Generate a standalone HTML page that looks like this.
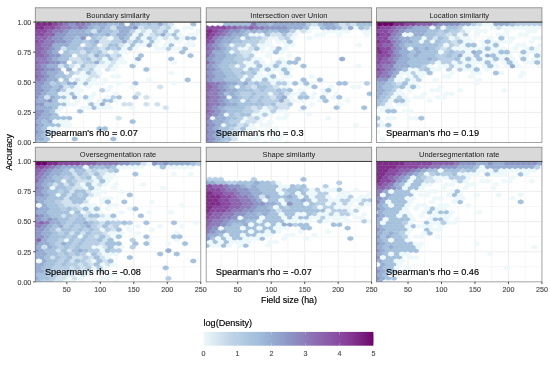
<!DOCTYPE html><html><head><meta charset="utf-8"><style>
html,body{margin:0;padding:0;background:#fff;width:550px;height:369px;overflow:hidden}
svg{display:block;will-change:transform}
text{font-family:"Liberation Sans",sans-serif}
</style></head><body>
<svg width="550" height="369" viewBox="0 0 550 369">
<rect width="550" height="369" fill="#fff"/>
<defs><filter id="bl" x="-5%" y="-5%" width="110%" height="110%"><feGaussianBlur stdDeviation="0.60"/></filter></defs>
<defs><path id="hx" stroke-width="0.4" d="M2.76 -1.16L0 -2.32L-2.76 -1.16V1.16L0 2.32L2.76 1.16Z"/></defs>
<defs><clipPath id="cp00"><rect x="35.30" y="22.05" width="165.45" height="120.45"/></clipPath></defs>
<g clip-path="url(#cp00)"><line x1="50.07" y1="22.05" x2="50.07" y2="142.50" stroke="#ebebeb" stroke-width="0.45"/><line x1="83.55" y1="22.05" x2="83.55" y2="142.50" stroke="#ebebeb" stroke-width="0.45"/><line x1="117.04" y1="22.05" x2="117.04" y2="142.50" stroke="#ebebeb" stroke-width="0.45"/><line x1="150.52" y1="22.05" x2="150.52" y2="142.50" stroke="#ebebeb" stroke-width="0.45"/><line x1="184.01" y1="22.05" x2="184.01" y2="142.50" stroke="#ebebeb" stroke-width="0.45"/><line x1="35.30" y1="127.44" x2="200.75" y2="127.44" stroke="#ebebeb" stroke-width="0.45"/><line x1="35.30" y1="97.33" x2="200.75" y2="97.33" stroke="#ebebeb" stroke-width="0.45"/><line x1="35.30" y1="67.22" x2="200.75" y2="67.22" stroke="#ebebeb" stroke-width="0.45"/><line x1="35.30" y1="37.11" x2="200.75" y2="37.11" stroke="#ebebeb" stroke-width="0.45"/><line x1="66.81" y1="22.05" x2="66.81" y2="142.50" stroke="#ebebeb" stroke-width="0.9"/><line x1="100.29" y1="22.05" x2="100.29" y2="142.50" stroke="#ebebeb" stroke-width="0.9"/><line x1="133.78" y1="22.05" x2="133.78" y2="142.50" stroke="#ebebeb" stroke-width="0.9"/><line x1="167.26" y1="22.05" x2="167.26" y2="142.50" stroke="#ebebeb" stroke-width="0.9"/><line x1="35.30" y1="112.39" x2="200.75" y2="112.39" stroke="#ebebeb" stroke-width="0.9"/><line x1="35.30" y1="82.28" x2="200.75" y2="82.28" stroke="#ebebeb" stroke-width="0.9"/><line x1="35.30" y1="52.16" x2="200.75" y2="52.16" stroke="#ebebeb" stroke-width="0.9"/>
<g filter="url(#bl)"><g fill="#7e2d89" stroke="#7e2d89"><use href="#hx" x="33.3" y="24.3"/><use href="#hx" x="38.8" y="24.3"/><use href="#hx" x="44.4" y="24.3"/><use href="#hx" x="49.9" y="24.3"/><use href="#hx" x="36.1" y="27.8"/><use href="#hx" x="41.6" y="27.8"/><use href="#hx" x="33.3" y="31.2"/></g>
<g fill="#894aa1" stroke="#894aa1"><use href="#hx" x="55.4" y="24.3"/><use href="#hx" x="47.1" y="27.8"/><use href="#hx" x="52.6" y="27.8"/><use href="#hx" x="38.8" y="31.2"/><use href="#hx" x="44.4" y="31.2"/><use href="#hx" x="36.1" y="34.7"/><use href="#hx" x="41.6" y="34.7"/><use href="#hx" x="33.3" y="38.2"/><use href="#hx" x="36.1" y="41.7"/><use href="#hx" x="33.3" y="45.1"/></g>
<g fill="#8c63ad" stroke="#8c63ad"><use href="#hx" x="60.9" y="24.3"/><use href="#hx" x="58.1" y="27.8"/><use href="#hx" x="49.9" y="31.2"/><use href="#hx" x="47.1" y="34.7"/><use href="#hx" x="52.6" y="34.7"/><use href="#hx" x="38.8" y="38.2"/><use href="#hx" x="44.4" y="38.2"/><use href="#hx" x="41.6" y="41.7"/><use href="#hx" x="38.8" y="45.1"/><use href="#hx" x="36.1" y="48.6"/><use href="#hx" x="41.6" y="48.6"/><use href="#hx" x="33.3" y="52.1"/><use href="#hx" x="38.8" y="52.1"/><use href="#hx" x="36.1" y="55.6"/><use href="#hx" x="41.6" y="55.6"/><use href="#hx" x="33.3" y="59.0"/><use href="#hx" x="36.1" y="62.5"/><use href="#hx" x="33.3" y="66.0"/><use href="#hx" x="36.1" y="69.5"/><use href="#hx" x="33.3" y="73.0"/><use href="#hx" x="36.1" y="76.4"/></g>
<g fill="#8d7cb9" stroke="#8d7cb9"><use href="#hx" x="66.4" y="24.3"/><use href="#hx" x="77.4" y="24.3"/><use href="#hx" x="83.0" y="24.3"/><use href="#hx" x="63.7" y="27.8"/><use href="#hx" x="69.2" y="27.8"/><use href="#hx" x="80.2" y="27.8"/><use href="#hx" x="55.4" y="31.2"/><use href="#hx" x="60.9" y="31.2"/><use href="#hx" x="49.9" y="38.2"/><use href="#hx" x="47.1" y="41.7"/><use href="#hx" x="52.6" y="41.7"/><use href="#hx" x="44.4" y="45.1"/><use href="#hx" x="49.9" y="45.1"/><use href="#hx" x="47.1" y="48.6"/><use href="#hx" x="44.4" y="52.1"/><use href="#hx" x="47.1" y="55.6"/><use href="#hx" x="38.8" y="59.0"/><use href="#hx" x="44.4" y="59.0"/><use href="#hx" x="41.6" y="62.5"/><use href="#hx" x="47.1" y="62.5"/><use href="#hx" x="38.8" y="66.0"/><use href="#hx" x="41.6" y="69.5"/><use href="#hx" x="38.8" y="73.0"/><use href="#hx" x="41.6" y="76.4"/><use href="#hx" x="33.3" y="79.9"/><use href="#hx" x="38.8" y="79.9"/></g>
<g fill="#8c96c6" stroke="#8c96c6"><use href="#hx" x="71.9" y="24.3"/><use href="#hx" x="88.5" y="24.3"/><use href="#hx" x="74.7" y="27.8"/><use href="#hx" x="85.7" y="27.8"/><use href="#hx" x="135.4" y="27.8"/><use href="#hx" x="66.4" y="31.2"/><use href="#hx" x="58.1" y="34.7"/><use href="#hx" x="63.7" y="34.7"/><use href="#hx" x="55.4" y="38.2"/><use href="#hx" x="60.9" y="38.2"/><use href="#hx" x="83.0" y="38.2"/><use href="#hx" x="58.1" y="41.7"/><use href="#hx" x="63.7" y="41.7"/><use href="#hx" x="52.6" y="48.6"/><use href="#hx" x="49.9" y="52.1"/><use href="#hx" x="52.6" y="55.6"/><use href="#hx" x="58.1" y="55.6"/><use href="#hx" x="49.9" y="59.0"/><use href="#hx" x="52.6" y="62.5"/><use href="#hx" x="58.1" y="62.5"/><use href="#hx" x="44.4" y="66.0"/><use href="#hx" x="47.1" y="69.5"/><use href="#hx" x="52.6" y="69.5"/><use href="#hx" x="44.4" y="73.0"/><use href="#hx" x="47.1" y="76.4"/><use href="#hx" x="44.4" y="79.9"/><use href="#hx" x="36.1" y="83.4"/><use href="#hx" x="41.6" y="83.4"/><use href="#hx" x="33.3" y="86.9"/><use href="#hx" x="38.8" y="86.9"/><use href="#hx" x="36.1" y="90.3"/><use href="#hx" x="41.6" y="90.3"/><use href="#hx" x="33.3" y="93.8"/><use href="#hx" x="38.8" y="93.8"/><use href="#hx" x="36.1" y="97.3"/><use href="#hx" x="33.3" y="100.8"/><use href="#hx" x="49.9" y="100.8"/><use href="#hx" x="36.1" y="104.3"/><use href="#hx" x="41.6" y="104.3"/><use href="#hx" x="33.3" y="107.7"/><use href="#hx" x="36.1" y="111.2"/><use href="#hx" x="41.6" y="111.2"/><use href="#hx" x="33.3" y="114.7"/><use href="#hx" x="38.8" y="114.7"/><use href="#hx" x="36.1" y="118.2"/><use href="#hx" x="33.3" y="121.6"/><use href="#hx" x="36.1" y="125.1"/><use href="#hx" x="33.3" y="128.6"/><use href="#hx" x="36.1" y="132.1"/><use href="#hx" x="33.3" y="135.5"/></g>
<g fill="#97add2" stroke="#97add2"><use href="#hx" x="94.0" y="24.3"/><use href="#hx" x="99.5" y="24.3"/><use href="#hx" x="105.0" y="24.3"/><use href="#hx" x="121.6" y="24.3"/><use href="#hx" x="132.6" y="24.3"/><use href="#hx" x="160.2" y="24.3"/><use href="#hx" x="91.2" y="27.8"/><use href="#hx" x="102.3" y="27.8"/><use href="#hx" x="118.8" y="27.8"/><use href="#hx" x="124.3" y="27.8"/><use href="#hx" x="129.8" y="27.8"/><use href="#hx" x="71.9" y="31.2"/><use href="#hx" x="77.4" y="31.2"/><use href="#hx" x="83.0" y="31.2"/><use href="#hx" x="99.5" y="31.2"/><use href="#hx" x="121.6" y="31.2"/><use href="#hx" x="127.1" y="31.2"/><use href="#hx" x="69.2" y="34.7"/><use href="#hx" x="74.7" y="34.7"/><use href="#hx" x="80.2" y="34.7"/><use href="#hx" x="85.7" y="34.7"/><use href="#hx" x="91.2" y="34.7"/><use href="#hx" x="107.8" y="34.7"/><use href="#hx" x="118.8" y="34.7"/><use href="#hx" x="124.3" y="34.7"/><use href="#hx" x="162.9" y="34.7"/><use href="#hx" x="66.4" y="38.2"/><use href="#hx" x="71.9" y="38.2"/><use href="#hx" x="121.6" y="38.2"/><use href="#hx" x="69.2" y="41.7"/><use href="#hx" x="96.7" y="41.7"/><use href="#hx" x="124.3" y="41.7"/><use href="#hx" x="55.4" y="45.1"/><use href="#hx" x="60.9" y="45.1"/><use href="#hx" x="66.4" y="45.1"/><use href="#hx" x="149.1" y="45.1"/><use href="#hx" x="58.1" y="48.6"/><use href="#hx" x="55.4" y="52.1"/><use href="#hx" x="96.7" y="55.6"/><use href="#hx" x="55.4" y="59.0"/><use href="#hx" x="138.1" y="59.0"/><use href="#hx" x="63.7" y="62.5"/><use href="#hx" x="96.7" y="62.5"/><use href="#hx" x="49.9" y="66.0"/><use href="#hx" x="55.4" y="66.0"/><use href="#hx" x="58.1" y="69.5"/><use href="#hx" x="69.2" y="69.5"/><use href="#hx" x="49.9" y="73.0"/><use href="#hx" x="55.4" y="73.0"/><use href="#hx" x="52.6" y="76.4"/><use href="#hx" x="49.9" y="79.9"/><use href="#hx" x="55.4" y="79.9"/><use href="#hx" x="47.1" y="83.4"/><use href="#hx" x="69.2" y="83.4"/><use href="#hx" x="74.7" y="83.4"/><use href="#hx" x="44.4" y="86.9"/><use href="#hx" x="49.9" y="86.9"/><use href="#hx" x="60.9" y="86.9"/><use href="#hx" x="47.1" y="90.3"/><use href="#hx" x="58.1" y="90.3"/><use href="#hx" x="44.4" y="93.8"/><use href="#hx" x="41.6" y="97.3"/><use href="#hx" x="52.6" y="97.3"/><use href="#hx" x="74.7" y="97.3"/><use href="#hx" x="38.8" y="100.8"/><use href="#hx" x="44.4" y="100.8"/><use href="#hx" x="102.3" y="104.3"/><use href="#hx" x="38.8" y="107.7"/><use href="#hx" x="44.4" y="107.7"/><use href="#hx" x="49.9" y="107.7"/><use href="#hx" x="47.1" y="111.2"/><use href="#hx" x="44.4" y="114.7"/><use href="#hx" x="49.9" y="114.7"/><use href="#hx" x="41.6" y="118.2"/><use href="#hx" x="47.1" y="118.2"/><use href="#hx" x="38.8" y="121.6"/><use href="#hx" x="49.9" y="121.6"/><use href="#hx" x="41.6" y="125.1"/><use href="#hx" x="38.8" y="128.6"/><use href="#hx" x="41.6" y="132.1"/><use href="#hx" x="38.8" y="135.5"/><use href="#hx" x="36.1" y="139.0"/><use href="#hx" x="41.6" y="139.0"/><use href="#hx" x="33.3" y="142.5"/></g>
<g fill="#a5c1dc" stroke="#a5c1dc"><use href="#hx" x="110.5" y="24.3"/><use href="#hx" x="116.0" y="24.3"/><use href="#hx" x="138.1" y="24.3"/><use href="#hx" x="149.1" y="24.3"/><use href="#hx" x="193.3" y="24.3"/><use href="#hx" x="96.7" y="27.8"/><use href="#hx" x="107.8" y="27.8"/><use href="#hx" x="88.5" y="31.2"/><use href="#hx" x="105.0" y="31.2"/><use href="#hx" x="110.5" y="31.2"/><use href="#hx" x="165.7" y="31.2"/><use href="#hx" x="96.7" y="34.7"/><use href="#hx" x="102.3" y="34.7"/><use href="#hx" x="129.8" y="34.7"/><use href="#hx" x="140.9" y="34.7"/><use href="#hx" x="174.0" y="34.7"/><use href="#hx" x="77.4" y="38.2"/><use href="#hx" x="94.0" y="38.2"/><use href="#hx" x="127.1" y="38.2"/><use href="#hx" x="138.1" y="38.2"/><use href="#hx" x="149.1" y="38.2"/><use href="#hx" x="187.7" y="38.2"/><use href="#hx" x="193.3" y="38.2"/><use href="#hx" x="74.7" y="41.7"/><use href="#hx" x="80.2" y="41.7"/><use href="#hx" x="91.2" y="41.7"/><use href="#hx" x="135.4" y="41.7"/><use href="#hx" x="151.9" y="41.7"/><use href="#hx" x="71.9" y="45.1"/><use href="#hx" x="77.4" y="45.1"/><use href="#hx" x="94.0" y="45.1"/><use href="#hx" x="110.5" y="45.1"/><use href="#hx" x="116.0" y="45.1"/><use href="#hx" x="132.6" y="45.1"/><use href="#hx" x="171.2" y="45.1"/><use href="#hx" x="69.2" y="48.6"/><use href="#hx" x="74.7" y="48.6"/><use href="#hx" x="85.7" y="48.6"/><use href="#hx" x="91.2" y="48.6"/><use href="#hx" x="107.8" y="48.6"/><use href="#hx" x="118.8" y="48.6"/><use href="#hx" x="129.8" y="48.6"/><use href="#hx" x="185.0" y="48.6"/><use href="#hx" x="66.4" y="52.1"/><use href="#hx" x="88.5" y="52.1"/><use href="#hx" x="99.5" y="52.1"/><use href="#hx" x="182.2" y="52.1"/><use href="#hx" x="63.7" y="55.6"/><use href="#hx" x="69.2" y="55.6"/><use href="#hx" x="107.8" y="55.6"/><use href="#hx" x="140.9" y="55.6"/><use href="#hx" x="190.5" y="55.6"/><use href="#hx" x="60.9" y="59.0"/><use href="#hx" x="66.4" y="59.0"/><use href="#hx" x="88.5" y="59.0"/><use href="#hx" x="110.5" y="59.0"/><use href="#hx" x="171.2" y="59.0"/><use href="#hx" x="66.4" y="66.0"/><use href="#hx" x="83.0" y="66.0"/><use href="#hx" x="132.6" y="66.0"/><use href="#hx" x="146.4" y="69.5"/><use href="#hx" x="60.9" y="73.0"/><use href="#hx" x="88.5" y="73.0"/><use href="#hx" x="58.1" y="76.4"/><use href="#hx" x="63.7" y="76.4"/><use href="#hx" x="66.4" y="79.9"/><use href="#hx" x="187.7" y="79.9"/><use href="#hx" x="58.1" y="83.4"/><use href="#hx" x="85.7" y="83.4"/><use href="#hx" x="135.4" y="83.4"/><use href="#hx" x="55.4" y="86.9"/><use href="#hx" x="52.6" y="90.3"/><use href="#hx" x="49.9" y="93.8"/><use href="#hx" x="55.4" y="93.8"/><use href="#hx" x="71.9" y="93.8"/><use href="#hx" x="58.1" y="97.3"/><use href="#hx" x="63.7" y="97.3"/><use href="#hx" x="85.7" y="97.3"/><use href="#hx" x="118.8" y="97.3"/><use href="#hx" x="135.4" y="97.3"/><use href="#hx" x="55.4" y="100.8"/><use href="#hx" x="105.0" y="100.8"/><use href="#hx" x="110.5" y="100.8"/><use href="#hx" x="47.1" y="104.3"/><use href="#hx" x="52.6" y="104.3"/><use href="#hx" x="58.1" y="104.3"/><use href="#hx" x="63.7" y="104.3"/><use href="#hx" x="91.2" y="104.3"/><use href="#hx" x="55.4" y="107.7"/><use href="#hx" x="94.0" y="107.7"/><use href="#hx" x="52.6" y="111.2"/><use href="#hx" x="80.2" y="111.2"/><use href="#hx" x="55.4" y="114.7"/><use href="#hx" x="52.6" y="118.2"/><use href="#hx" x="58.1" y="118.2"/><use href="#hx" x="63.7" y="118.2"/><use href="#hx" x="69.2" y="118.2"/><use href="#hx" x="44.4" y="121.6"/><use href="#hx" x="132.6" y="121.6"/><use href="#hx" x="47.1" y="125.1"/><use href="#hx" x="52.6" y="125.1"/><use href="#hx" x="58.1" y="125.1"/><use href="#hx" x="44.4" y="128.6"/><use href="#hx" x="99.5" y="128.6"/><use href="#hx" x="105.0" y="128.6"/><use href="#hx" x="47.1" y="132.1"/><use href="#hx" x="44.4" y="135.5"/><use href="#hx" x="47.1" y="139.0"/><use href="#hx" x="74.7" y="139.0"/><use href="#hx" x="113.3" y="139.0"/><use href="#hx" x="38.8" y="142.5"/><use href="#hx" x="44.4" y="142.5"/></g>
<g fill="#b8cee4" stroke="#b8cee4"><use href="#hx" x="143.6" y="24.3"/><use href="#hx" x="154.7" y="24.3"/><use href="#hx" x="165.7" y="24.3"/><use href="#hx" x="146.4" y="27.8"/><use href="#hx" x="151.9" y="27.8"/><use href="#hx" x="157.4" y="27.8"/><use href="#hx" x="168.4" y="27.8"/><use href="#hx" x="116.0" y="31.2"/><use href="#hx" x="132.6" y="31.2"/><use href="#hx" x="154.7" y="31.2"/><use href="#hx" x="176.7" y="31.2"/><use href="#hx" x="113.3" y="34.7"/><use href="#hx" x="157.4" y="34.7"/><use href="#hx" x="99.5" y="38.2"/><use href="#hx" x="116.0" y="38.2"/><use href="#hx" x="176.7" y="38.2"/><use href="#hx" x="85.7" y="41.7"/><use href="#hx" x="113.3" y="41.7"/><use href="#hx" x="118.8" y="41.7"/><use href="#hx" x="140.9" y="41.7"/><use href="#hx" x="88.5" y="45.1"/><use href="#hx" x="80.2" y="48.6"/><use href="#hx" x="96.7" y="48.6"/><use href="#hx" x="113.3" y="48.6"/><use href="#hx" x="168.4" y="48.6"/><use href="#hx" x="71.9" y="52.1"/><use href="#hx" x="77.4" y="52.1"/><use href="#hx" x="94.0" y="52.1"/><use href="#hx" x="80.2" y="55.6"/><use href="#hx" x="85.7" y="55.6"/><use href="#hx" x="102.3" y="55.6"/><use href="#hx" x="118.8" y="55.6"/><use href="#hx" x="83.0" y="59.0"/><use href="#hx" x="99.5" y="59.0"/><use href="#hx" x="74.7" y="62.5"/><use href="#hx" x="85.7" y="62.5"/><use href="#hx" x="91.2" y="62.5"/><use href="#hx" x="80.2" y="69.5"/><use href="#hx" x="91.2" y="69.5"/><use href="#hx" x="71.9" y="73.0"/><use href="#hx" x="69.2" y="76.4"/><use href="#hx" x="52.6" y="83.4"/><use href="#hx" x="63.7" y="83.4"/><use href="#hx" x="71.9" y="86.9"/><use href="#hx" x="63.7" y="90.3"/><use href="#hx" x="102.3" y="90.3"/><use href="#hx" x="113.3" y="97.3"/><use href="#hx" x="52.6" y="132.1"/></g>
<g fill="#d1e2ee" stroke="#d1e2ee"><use href="#hx" x="171.2" y="24.3"/><use href="#hx" x="113.3" y="27.8"/><use href="#hx" x="140.9" y="27.8"/><use href="#hx" x="162.9" y="27.8"/><use href="#hx" x="94.0" y="31.2"/><use href="#hx" x="143.6" y="31.2"/><use href="#hx" x="160.2" y="31.2"/><use href="#hx" x="151.9" y="34.7"/><use href="#hx" x="168.4" y="34.7"/><use href="#hx" x="105.0" y="38.2"/><use href="#hx" x="154.7" y="38.2"/><use href="#hx" x="165.7" y="38.2"/><use href="#hx" x="102.3" y="41.7"/><use href="#hx" x="107.8" y="41.7"/><use href="#hx" x="129.8" y="41.7"/><use href="#hx" x="105.0" y="45.1"/><use href="#hx" x="121.6" y="45.1"/><use href="#hx" x="63.7" y="48.6"/><use href="#hx" x="102.3" y="48.6"/><use href="#hx" x="83.0" y="52.1"/><use href="#hx" x="105.0" y="52.1"/><use href="#hx" x="116.0" y="52.1"/><use href="#hx" x="91.2" y="55.6"/><use href="#hx" x="113.3" y="55.6"/><use href="#hx" x="71.9" y="59.0"/><use href="#hx" x="77.4" y="59.0"/><use href="#hx" x="94.0" y="59.0"/><use href="#hx" x="116.0" y="59.0"/><use href="#hx" x="80.2" y="62.5"/><use href="#hx" x="102.3" y="62.5"/><use href="#hx" x="113.3" y="62.5"/><use href="#hx" x="60.9" y="66.0"/><use href="#hx" x="71.9" y="66.0"/><use href="#hx" x="88.5" y="66.0"/><use href="#hx" x="94.0" y="66.0"/><use href="#hx" x="110.5" y="66.0"/><use href="#hx" x="85.7" y="69.5"/><use href="#hx" x="107.8" y="69.5"/><use href="#hx" x="77.4" y="73.0"/><use href="#hx" x="94.0" y="73.0"/><use href="#hx" x="91.2" y="76.4"/><use href="#hx" x="96.7" y="76.4"/><use href="#hx" x="77.4" y="79.9"/><use href="#hx" x="88.5" y="79.9"/><use href="#hx" x="66.4" y="86.9"/><use href="#hx" x="160.2" y="86.9"/><use href="#hx" x="138.1" y="93.8"/><use href="#hx" x="47.1" y="97.3"/><use href="#hx" x="146.4" y="97.3"/><use href="#hx" x="124.3" y="104.3"/><use href="#hx" x="129.8" y="104.3"/><use href="#hx" x="146.4" y="104.3"/><use href="#hx" x="157.4" y="104.3"/><use href="#hx" x="165.7" y="107.7"/><use href="#hx" x="118.8" y="118.2"/></g>
<g fill="#edf8fb" stroke="#edf8fb"><use href="#hx" x="174.0" y="27.8"/><use href="#hx" x="185.0" y="27.8"/><use href="#hx" x="190.5" y="27.8"/><use href="#hx" x="138.1" y="31.2"/><use href="#hx" x="149.1" y="31.2"/><use href="#hx" x="171.2" y="31.2"/><use href="#hx" x="198.8" y="31.2"/><use href="#hx" x="135.4" y="34.7"/><use href="#hx" x="146.4" y="34.7"/><use href="#hx" x="179.5" y="34.7"/><use href="#hx" x="190.5" y="34.7"/><use href="#hx" x="196.0" y="34.7"/><use href="#hx" x="110.5" y="38.2"/><use href="#hx" x="132.6" y="38.2"/><use href="#hx" x="143.6" y="38.2"/><use href="#hx" x="160.2" y="38.2"/><use href="#hx" x="171.2" y="38.2"/><use href="#hx" x="182.2" y="38.2"/><use href="#hx" x="146.4" y="41.7"/><use href="#hx" x="157.4" y="41.7"/><use href="#hx" x="168.4" y="41.7"/><use href="#hx" x="174.0" y="41.7"/><use href="#hx" x="179.5" y="41.7"/><use href="#hx" x="190.5" y="41.7"/><use href="#hx" x="127.1" y="45.1"/><use href="#hx" x="138.1" y="45.1"/><use href="#hx" x="143.6" y="45.1"/><use href="#hx" x="154.7" y="45.1"/><use href="#hx" x="165.7" y="45.1"/><use href="#hx" x="187.7" y="45.1"/><use href="#hx" x="193.3" y="45.1"/><use href="#hx" x="124.3" y="48.6"/><use href="#hx" x="135.4" y="48.6"/><use href="#hx" x="157.4" y="48.6"/><use href="#hx" x="162.9" y="48.6"/><use href="#hx" x="174.0" y="48.6"/><use href="#hx" x="179.5" y="48.6"/><use href="#hx" x="110.5" y="52.1"/><use href="#hx" x="121.6" y="52.1"/><use href="#hx" x="127.1" y="52.1"/><use href="#hx" x="105.0" y="59.0"/><use href="#hx" x="121.6" y="59.0"/><use href="#hx" x="107.8" y="62.5"/><use href="#hx" x="118.8" y="62.5"/><use href="#hx" x="124.3" y="62.5"/><use href="#hx" x="135.4" y="62.5"/><use href="#hx" x="174.0" y="62.5"/><use href="#hx" x="77.4" y="66.0"/><use href="#hx" x="99.5" y="66.0"/><use href="#hx" x="105.0" y="66.0"/><use href="#hx" x="116.0" y="66.0"/><use href="#hx" x="96.7" y="69.5"/><use href="#hx" x="113.3" y="69.5"/><use href="#hx" x="83.0" y="73.0"/><use href="#hx" x="99.5" y="73.0"/><use href="#hx" x="171.2" y="73.0"/><use href="#hx" x="80.2" y="76.4"/><use href="#hx" x="85.7" y="76.4"/><use href="#hx" x="113.3" y="76.4"/><use href="#hx" x="118.8" y="76.4"/><use href="#hx" x="71.9" y="79.9"/><use href="#hx" x="83.0" y="79.9"/><use href="#hx" x="94.0" y="79.9"/><use href="#hx" x="105.0" y="79.9"/><use href="#hx" x="149.1" y="79.9"/><use href="#hx" x="80.2" y="83.4"/><use href="#hx" x="91.2" y="83.4"/><use href="#hx" x="96.7" y="83.4"/><use href="#hx" x="102.3" y="83.4"/><use href="#hx" x="118.8" y="83.4"/><use href="#hx" x="174.0" y="83.4"/><use href="#hx" x="77.4" y="86.9"/><use href="#hx" x="88.5" y="86.9"/><use href="#hx" x="110.5" y="86.9"/><use href="#hx" x="132.6" y="86.9"/><use href="#hx" x="69.2" y="90.3"/><use href="#hx" x="74.7" y="90.3"/><use href="#hx" x="80.2" y="90.3"/><use href="#hx" x="107.8" y="90.3"/><use href="#hx" x="60.9" y="93.8"/><use href="#hx" x="66.4" y="93.8"/><use href="#hx" x="77.4" y="93.8"/><use href="#hx" x="94.0" y="93.8"/><use href="#hx" x="116.0" y="93.8"/><use href="#hx" x="69.2" y="97.3"/><use href="#hx" x="80.2" y="97.3"/><use href="#hx" x="91.2" y="97.3"/><use href="#hx" x="107.8" y="97.3"/><use href="#hx" x="60.9" y="100.8"/><use href="#hx" x="66.4" y="100.8"/><use href="#hx" x="77.4" y="100.8"/><use href="#hx" x="88.5" y="100.8"/><use href="#hx" x="99.5" y="100.8"/><use href="#hx" x="116.0" y="100.8"/><use href="#hx" x="69.2" y="104.3"/><use href="#hx" x="74.7" y="104.3"/><use href="#hx" x="96.7" y="104.3"/><use href="#hx" x="107.8" y="104.3"/><use href="#hx" x="60.9" y="107.7"/><use href="#hx" x="83.0" y="107.7"/><use href="#hx" x="88.5" y="107.7"/><use href="#hx" x="99.5" y="107.7"/><use href="#hx" x="105.0" y="107.7"/><use href="#hx" x="110.5" y="107.7"/><use href="#hx" x="132.6" y="107.7"/><use href="#hx" x="58.1" y="111.2"/><use href="#hx" x="55.4" y="121.6"/><use href="#hx" x="60.9" y="121.6"/><use href="#hx" x="66.4" y="121.6"/><use href="#hx" x="63.7" y="125.1"/><use href="#hx" x="69.2" y="125.1"/><use href="#hx" x="49.9" y="128.6"/><use href="#hx" x="55.4" y="128.6"/><use href="#hx" x="49.9" y="135.5"/></g></g>
</g>
<rect x="35.30" y="22.05" width="165.45" height="120.45" fill="none" stroke="#333" stroke-opacity="0.5" stroke-width="0.90"/>
<rect x="35.30" y="7.75" width="165.45" height="14.30" fill="#d9d9d9" stroke="#333" stroke-opacity="0.5" stroke-width="0.90"/>
<line x1="34.85" y1="22.05" x2="201.20" y2="22.05" stroke="#333" stroke-width="0.8"/>
<text x="118.02" y="17.60" font-size="7.5" stroke-width="0" fill="#222" text-anchor="middle">Boundary similarity</text>
<text x="44.90" y="136.00" font-size="9.2" fill="#000" stroke="#000" stroke-width="0.15">Spearman&#39;s rho = 0.07</text>
<line x1="33.10" y1="142.50" x2="35.30" y2="142.50" stroke="#333" stroke-width="0.85"/>
<text x="31.30" y="145.30" font-size="7.1" fill="#4d4d4d" stroke="#4d4d4d" stroke-width="0.15" text-anchor="end">0.00</text>
<line x1="33.10" y1="112.39" x2="35.30" y2="112.39" stroke="#333" stroke-width="0.85"/>
<text x="31.30" y="115.19" font-size="7.1" fill="#4d4d4d" stroke="#4d4d4d" stroke-width="0.15" text-anchor="end">0.25</text>
<line x1="33.10" y1="82.28" x2="35.30" y2="82.28" stroke="#333" stroke-width="0.85"/>
<text x="31.30" y="85.08" font-size="7.1" fill="#4d4d4d" stroke="#4d4d4d" stroke-width="0.15" text-anchor="end">0.50</text>
<line x1="33.10" y1="52.16" x2="35.30" y2="52.16" stroke="#333" stroke-width="0.85"/>
<text x="31.30" y="54.96" font-size="7.1" fill="#4d4d4d" stroke="#4d4d4d" stroke-width="0.15" text-anchor="end">0.75</text>
<line x1="33.10" y1="22.05" x2="35.30" y2="22.05" stroke="#333" stroke-width="0.85"/>
<text x="31.30" y="24.85" font-size="7.1" fill="#4d4d4d" stroke="#4d4d4d" stroke-width="0.15" text-anchor="end">1.00</text>
<defs><clipPath id="cp01"><rect x="206.20" y="22.05" width="165.45" height="120.45"/></clipPath></defs>
<g clip-path="url(#cp01)"><line x1="220.97" y1="22.05" x2="220.97" y2="142.50" stroke="#ebebeb" stroke-width="0.45"/><line x1="254.45" y1="22.05" x2="254.45" y2="142.50" stroke="#ebebeb" stroke-width="0.45"/><line x1="287.94" y1="22.05" x2="287.94" y2="142.50" stroke="#ebebeb" stroke-width="0.45"/><line x1="321.42" y1="22.05" x2="321.42" y2="142.50" stroke="#ebebeb" stroke-width="0.45"/><line x1="354.91" y1="22.05" x2="354.91" y2="142.50" stroke="#ebebeb" stroke-width="0.45"/><line x1="206.20" y1="127.44" x2="371.65" y2="127.44" stroke="#ebebeb" stroke-width="0.45"/><line x1="206.20" y1="97.33" x2="371.65" y2="97.33" stroke="#ebebeb" stroke-width="0.45"/><line x1="206.20" y1="67.22" x2="371.65" y2="67.22" stroke="#ebebeb" stroke-width="0.45"/><line x1="206.20" y1="37.11" x2="371.65" y2="37.11" stroke="#ebebeb" stroke-width="0.45"/><line x1="237.71" y1="22.05" x2="237.71" y2="142.50" stroke="#ebebeb" stroke-width="0.9"/><line x1="271.19" y1="22.05" x2="271.19" y2="142.50" stroke="#ebebeb" stroke-width="0.9"/><line x1="304.68" y1="22.05" x2="304.68" y2="142.50" stroke="#ebebeb" stroke-width="0.9"/><line x1="338.16" y1="22.05" x2="338.16" y2="142.50" stroke="#ebebeb" stroke-width="0.9"/><line x1="206.20" y1="112.39" x2="371.65" y2="112.39" stroke="#ebebeb" stroke-width="0.9"/><line x1="206.20" y1="82.28" x2="371.65" y2="82.28" stroke="#ebebeb" stroke-width="0.9"/><line x1="206.20" y1="52.16" x2="371.65" y2="52.16" stroke="#ebebeb" stroke-width="0.9"/>
<g filter="url(#bl)"><g fill="#edf8fb" stroke="#edf8fb"><use href="#hx" x="220.8" y="24.3"/><use href="#hx" x="311.8" y="27.8"/><use href="#hx" x="317.3" y="27.8"/><use href="#hx" x="355.9" y="27.8"/><use href="#hx" x="372.4" y="27.8"/><use href="#hx" x="298.0" y="31.2"/><use href="#hx" x="309.0" y="31.2"/><use href="#hx" x="325.6" y="31.2"/><use href="#hx" x="331.1" y="31.2"/><use href="#hx" x="336.6" y="31.2"/><use href="#hx" x="342.1" y="31.2"/><use href="#hx" x="347.6" y="31.2"/><use href="#hx" x="364.2" y="31.2"/><use href="#hx" x="369.7" y="31.2"/><use href="#hx" x="251.1" y="34.7"/><use href="#hx" x="256.6" y="34.7"/><use href="#hx" x="262.1" y="34.7"/><use href="#hx" x="295.2" y="34.7"/><use href="#hx" x="317.3" y="34.7"/><use href="#hx" x="322.8" y="34.7"/><use href="#hx" x="339.3" y="34.7"/><use href="#hx" x="366.9" y="34.7"/><use href="#hx" x="242.8" y="38.2"/><use href="#hx" x="270.4" y="38.2"/><use href="#hx" x="275.9" y="38.2"/><use href="#hx" x="292.5" y="38.2"/><use href="#hx" x="309.0" y="38.2"/><use href="#hx" x="267.6" y="41.7"/><use href="#hx" x="278.7" y="41.7"/><use href="#hx" x="284.2" y="41.7"/><use href="#hx" x="231.8" y="45.1"/><use href="#hx" x="248.3" y="45.1"/><use href="#hx" x="259.4" y="45.1"/><use href="#hx" x="264.9" y="45.1"/><use href="#hx" x="270.4" y="45.1"/><use href="#hx" x="286.9" y="45.1"/><use href="#hx" x="292.5" y="45.1"/><use href="#hx" x="358.6" y="45.1"/><use href="#hx" x="240.1" y="48.6"/><use href="#hx" x="245.6" y="48.6"/><use href="#hx" x="262.1" y="48.6"/><use href="#hx" x="273.2" y="48.6"/><use href="#hx" x="284.2" y="48.6"/><use href="#hx" x="231.8" y="52.1"/><use href="#hx" x="253.9" y="52.1"/><use href="#hx" x="270.4" y="52.1"/><use href="#hx" x="281.4" y="52.1"/><use href="#hx" x="267.6" y="55.6"/><use href="#hx" x="289.7" y="55.6"/><use href="#hx" x="253.9" y="59.0"/><use href="#hx" x="259.4" y="59.0"/><use href="#hx" x="281.4" y="59.0"/><use href="#hx" x="245.6" y="62.5"/><use href="#hx" x="251.1" y="62.5"/><use href="#hx" x="262.1" y="62.5"/><use href="#hx" x="273.2" y="62.5"/><use href="#hx" x="284.2" y="62.5"/><use href="#hx" x="237.3" y="66.0"/><use href="#hx" x="248.3" y="66.0"/><use href="#hx" x="253.9" y="66.0"/><use href="#hx" x="264.9" y="66.0"/><use href="#hx" x="270.4" y="66.0"/><use href="#hx" x="281.4" y="66.0"/><use href="#hx" x="286.9" y="66.0"/><use href="#hx" x="358.6" y="66.0"/><use href="#hx" x="245.6" y="69.5"/><use href="#hx" x="262.1" y="69.5"/><use href="#hx" x="273.2" y="69.5"/><use href="#hx" x="278.7" y="69.5"/><use href="#hx" x="289.7" y="69.5"/><use href="#hx" x="259.4" y="73.0"/><use href="#hx" x="270.4" y="73.0"/><use href="#hx" x="281.4" y="73.0"/><use href="#hx" x="245.6" y="76.4"/><use href="#hx" x="256.6" y="76.4"/><use href="#hx" x="262.1" y="76.4"/><use href="#hx" x="267.6" y="76.4"/><use href="#hx" x="284.2" y="76.4"/><use href="#hx" x="289.7" y="76.4"/><use href="#hx" x="311.8" y="76.4"/><use href="#hx" x="242.8" y="79.9"/><use href="#hx" x="253.9" y="79.9"/><use href="#hx" x="259.4" y="79.9"/><use href="#hx" x="270.4" y="79.9"/><use href="#hx" x="275.9" y="79.9"/><use href="#hx" x="281.4" y="79.9"/><use href="#hx" x="273.2" y="83.4"/><use href="#hx" x="289.7" y="83.4"/><use href="#hx" x="300.7" y="83.4"/><use href="#hx" x="311.8" y="83.4"/><use href="#hx" x="237.3" y="86.9"/><use href="#hx" x="281.4" y="86.9"/><use href="#hx" x="286.9" y="86.9"/><use href="#hx" x="309.0" y="86.9"/><use href="#hx" x="331.1" y="86.9"/><use href="#hx" x="353.1" y="86.9"/><use href="#hx" x="358.6" y="86.9"/><use href="#hx" x="300.7" y="90.3"/><use href="#hx" x="322.8" y="90.3"/><use href="#hx" x="270.4" y="93.8"/><use href="#hx" x="292.5" y="93.8"/><use href="#hx" x="298.0" y="93.8"/><use href="#hx" x="314.5" y="93.8"/><use href="#hx" x="325.6" y="93.8"/><use href="#hx" x="336.6" y="93.8"/><use href="#hx" x="229.0" y="97.3"/><use href="#hx" x="289.7" y="97.3"/><use href="#hx" x="311.8" y="97.3"/><use href="#hx" x="333.8" y="97.3"/><use href="#hx" x="242.8" y="100.8"/><use href="#hx" x="292.5" y="100.8"/><use href="#hx" x="298.0" y="100.8"/><use href="#hx" x="303.5" y="100.8"/><use href="#hx" x="320.0" y="100.8"/><use href="#hx" x="347.6" y="100.8"/><use href="#hx" x="311.8" y="104.3"/><use href="#hx" x="339.3" y="104.3"/><use href="#hx" x="264.9" y="107.7"/><use href="#hx" x="262.1" y="111.2"/><use href="#hx" x="267.6" y="111.2"/><use href="#hx" x="278.7" y="111.2"/><use href="#hx" x="284.2" y="111.2"/><use href="#hx" x="300.7" y="111.2"/><use href="#hx" x="226.3" y="114.7"/><use href="#hx" x="253.9" y="114.7"/><use href="#hx" x="259.4" y="114.7"/><use href="#hx" x="270.4" y="114.7"/><use href="#hx" x="286.9" y="114.7"/><use href="#hx" x="309.0" y="114.7"/><use href="#hx" x="212.5" y="118.2"/><use href="#hx" x="245.6" y="118.2"/><use href="#hx" x="262.1" y="118.2"/><use href="#hx" x="278.7" y="118.2"/><use href="#hx" x="284.2" y="118.2"/><use href="#hx" x="328.3" y="118.2"/><use href="#hx" x="242.8" y="121.6"/><use href="#hx" x="259.4" y="121.6"/><use href="#hx" x="270.4" y="121.6"/><use href="#hx" x="223.5" y="125.1"/><use href="#hx" x="251.1" y="125.1"/><use href="#hx" x="262.1" y="125.1"/><use href="#hx" x="267.6" y="125.1"/><use href="#hx" x="355.9" y="125.1"/><use href="#hx" x="248.3" y="128.6"/><use href="#hx" x="253.9" y="128.6"/><use href="#hx" x="275.9" y="128.6"/><use href="#hx" x="240.1" y="132.1"/><use href="#hx" x="245.6" y="132.1"/><use href="#hx" x="267.6" y="132.1"/><use href="#hx" x="273.2" y="132.1"/><use href="#hx" x="237.3" y="135.5"/><use href="#hx" x="259.4" y="135.5"/><use href="#hx" x="281.4" y="135.5"/><use href="#hx" x="251.1" y="139.0"/><use href="#hx" x="256.6" y="139.0"/><use href="#hx" x="273.2" y="139.0"/><use href="#hx" x="278.7" y="139.0"/><use href="#hx" x="231.8" y="142.5"/><use href="#hx" x="242.8" y="142.5"/><use href="#hx" x="264.9" y="142.5"/><use href="#hx" x="286.9" y="142.5"/></g>
<g fill="#a5c1dc" stroke="#a5c1dc"><use href="#hx" x="226.3" y="24.3"/><use href="#hx" x="231.8" y="24.3"/><use href="#hx" x="237.3" y="24.3"/><use href="#hx" x="242.8" y="24.3"/><use href="#hx" x="248.3" y="24.3"/><use href="#hx" x="270.4" y="24.3"/><use href="#hx" x="320.0" y="24.3"/><use href="#hx" x="336.6" y="24.3"/><use href="#hx" x="358.6" y="24.3"/><use href="#hx" x="364.2" y="24.3"/><use href="#hx" x="369.7" y="24.3"/><use href="#hx" x="306.3" y="27.8"/><use href="#hx" x="322.8" y="27.8"/><use href="#hx" x="339.3" y="27.8"/><use href="#hx" x="361.4" y="27.8"/><use href="#hx" x="248.3" y="31.2"/><use href="#hx" x="259.4" y="31.2"/><use href="#hx" x="270.4" y="31.2"/><use href="#hx" x="275.9" y="31.2"/><use href="#hx" x="245.6" y="34.7"/><use href="#hx" x="267.6" y="34.7"/><use href="#hx" x="284.2" y="34.7"/><use href="#hx" x="237.3" y="38.2"/><use href="#hx" x="248.3" y="38.2"/><use href="#hx" x="234.6" y="41.7"/><use href="#hx" x="240.1" y="41.7"/><use href="#hx" x="289.7" y="41.7"/><use href="#hx" x="226.3" y="45.1"/><use href="#hx" x="229.0" y="48.6"/><use href="#hx" x="256.6" y="48.6"/><use href="#hx" x="278.7" y="48.6"/><use href="#hx" x="226.3" y="52.1"/><use href="#hx" x="275.9" y="52.1"/><use href="#hx" x="229.0" y="55.6"/><use href="#hx" x="234.6" y="55.6"/><use href="#hx" x="226.3" y="59.0"/><use href="#hx" x="231.8" y="59.0"/><use href="#hx" x="298.0" y="59.0"/><use href="#hx" x="223.5" y="62.5"/><use href="#hx" x="229.0" y="62.5"/><use href="#hx" x="234.6" y="62.5"/><use href="#hx" x="289.7" y="62.5"/><use href="#hx" x="295.2" y="62.5"/><use href="#hx" x="220.8" y="66.0"/><use href="#hx" x="226.3" y="66.0"/><use href="#hx" x="259.4" y="66.0"/><use href="#hx" x="275.9" y="66.0"/><use href="#hx" x="303.5" y="66.0"/><use href="#hx" x="223.5" y="69.5"/><use href="#hx" x="229.0" y="69.5"/><use href="#hx" x="251.1" y="69.5"/><use href="#hx" x="267.6" y="69.5"/><use href="#hx" x="284.2" y="69.5"/><use href="#hx" x="226.3" y="73.0"/><use href="#hx" x="231.8" y="73.0"/><use href="#hx" x="242.8" y="73.0"/><use href="#hx" x="253.9" y="73.0"/><use href="#hx" x="286.9" y="73.0"/><use href="#hx" x="229.0" y="76.4"/><use href="#hx" x="234.6" y="76.4"/><use href="#hx" x="273.2" y="76.4"/><use href="#hx" x="226.3" y="79.9"/><use href="#hx" x="231.8" y="79.9"/><use href="#hx" x="237.3" y="79.9"/><use href="#hx" x="248.3" y="79.9"/><use href="#hx" x="264.9" y="79.9"/><use href="#hx" x="303.5" y="79.9"/><use href="#hx" x="320.0" y="79.9"/><use href="#hx" x="240.1" y="83.4"/><use href="#hx" x="256.6" y="83.4"/><use href="#hx" x="295.2" y="83.4"/><use href="#hx" x="306.3" y="83.4"/><use href="#hx" x="339.3" y="83.4"/><use href="#hx" x="344.9" y="83.4"/><use href="#hx" x="231.8" y="86.9"/><use href="#hx" x="242.8" y="86.9"/><use href="#hx" x="259.4" y="86.9"/><use href="#hx" x="264.9" y="86.9"/><use href="#hx" x="314.5" y="86.9"/><use href="#hx" x="240.1" y="90.3"/><use href="#hx" x="245.6" y="90.3"/><use href="#hx" x="251.1" y="90.3"/><use href="#hx" x="262.1" y="90.3"/><use href="#hx" x="278.7" y="90.3"/><use href="#hx" x="289.7" y="90.3"/><use href="#hx" x="328.3" y="90.3"/><use href="#hx" x="226.3" y="93.8"/><use href="#hx" x="237.3" y="93.8"/><use href="#hx" x="253.9" y="93.8"/><use href="#hx" x="281.4" y="93.8"/><use href="#hx" x="369.7" y="93.8"/><use href="#hx" x="240.1" y="97.3"/><use href="#hx" x="251.1" y="97.3"/><use href="#hx" x="262.1" y="97.3"/><use href="#hx" x="278.7" y="97.3"/><use href="#hx" x="300.7" y="97.3"/><use href="#hx" x="306.3" y="97.3"/><use href="#hx" x="322.8" y="97.3"/><use href="#hx" x="339.3" y="97.3"/><use href="#hx" x="231.8" y="100.8"/><use href="#hx" x="237.3" y="100.8"/><use href="#hx" x="248.3" y="100.8"/><use href="#hx" x="259.4" y="100.8"/><use href="#hx" x="325.6" y="100.8"/><use href="#hx" x="240.1" y="104.3"/><use href="#hx" x="245.6" y="104.3"/><use href="#hx" x="251.1" y="104.3"/><use href="#hx" x="256.6" y="104.3"/><use href="#hx" x="262.1" y="104.3"/><use href="#hx" x="273.2" y="104.3"/><use href="#hx" x="226.3" y="107.7"/><use href="#hx" x="231.8" y="107.7"/><use href="#hx" x="237.3" y="107.7"/><use href="#hx" x="242.8" y="107.7"/><use href="#hx" x="303.5" y="107.7"/><use href="#hx" x="336.6" y="107.7"/><use href="#hx" x="364.2" y="107.7"/><use href="#hx" x="229.0" y="111.2"/><use href="#hx" x="234.6" y="111.2"/><use href="#hx" x="240.1" y="111.2"/><use href="#hx" x="231.8" y="114.7"/><use href="#hx" x="242.8" y="114.7"/><use href="#hx" x="248.3" y="114.7"/><use href="#hx" x="229.0" y="118.2"/><use href="#hx" x="234.6" y="118.2"/><use href="#hx" x="226.3" y="121.6"/><use href="#hx" x="229.0" y="125.1"/><use href="#hx" x="234.6" y="125.1"/><use href="#hx" x="220.8" y="128.6"/><use href="#hx" x="226.3" y="128.6"/><use href="#hx" x="242.8" y="128.6"/><use href="#hx" x="223.5" y="132.1"/><use href="#hx" x="220.8" y="135.5"/><use href="#hx" x="223.5" y="139.0"/><use href="#hx" x="229.0" y="139.0"/><use href="#hx" x="220.8" y="142.5"/></g>
<g fill="#8d7cb9" stroke="#8d7cb9"><use href="#hx" x="253.9" y="24.3"/><use href="#hx" x="240.1" y="27.8"/><use href="#hx" x="245.6" y="27.8"/><use href="#hx" x="256.6" y="27.8"/><use href="#hx" x="262.1" y="27.8"/><use href="#hx" x="226.3" y="31.2"/><use href="#hx" x="223.5" y="34.7"/><use href="#hx" x="215.3" y="38.2"/><use href="#hx" x="209.7" y="45.1"/><use href="#hx" x="212.5" y="48.6"/><use href="#hx" x="209.7" y="52.1"/><use href="#hx" x="204.2" y="66.0"/><use href="#hx" x="207.0" y="69.5"/><use href="#hx" x="204.2" y="73.0"/><use href="#hx" x="207.0" y="76.4"/><use href="#hx" x="204.2" y="79.9"/><use href="#hx" x="212.5" y="83.4"/><use href="#hx" x="218.0" y="83.4"/><use href="#hx" x="215.3" y="86.9"/><use href="#hx" x="212.5" y="90.3"/><use href="#hx" x="218.0" y="90.3"/><use href="#hx" x="209.7" y="93.8"/><use href="#hx" x="215.3" y="93.8"/><use href="#hx" x="212.5" y="97.3"/><use href="#hx" x="218.0" y="97.3"/><use href="#hx" x="209.7" y="100.8"/><use href="#hx" x="215.3" y="100.8"/><use href="#hx" x="212.5" y="104.3"/><use href="#hx" x="218.0" y="104.3"/><use href="#hx" x="209.7" y="107.7"/><use href="#hx" x="212.5" y="111.2"/><use href="#hx" x="204.2" y="114.7"/><use href="#hx" x="209.7" y="114.7"/><use href="#hx" x="207.0" y="118.2"/><use href="#hx" x="204.2" y="121.6"/><use href="#hx" x="207.0" y="125.1"/><use href="#hx" x="204.2" y="128.6"/><use href="#hx" x="207.0" y="132.1"/><use href="#hx" x="204.2" y="135.5"/><use href="#hx" x="207.0" y="139.0"/><use href="#hx" x="204.2" y="142.5"/></g>
<g fill="#97add2" stroke="#97add2"><use href="#hx" x="259.4" y="24.3"/><use href="#hx" x="264.9" y="24.3"/><use href="#hx" x="275.9" y="24.3"/><use href="#hx" x="281.4" y="24.3"/><use href="#hx" x="286.9" y="24.3"/><use href="#hx" x="292.5" y="24.3"/><use href="#hx" x="298.0" y="24.3"/><use href="#hx" x="303.5" y="24.3"/><use href="#hx" x="325.6" y="24.3"/><use href="#hx" x="331.1" y="24.3"/><use href="#hx" x="289.7" y="27.8"/><use href="#hx" x="295.2" y="27.8"/><use href="#hx" x="300.7" y="27.8"/><use href="#hx" x="328.3" y="27.8"/><use href="#hx" x="333.8" y="27.8"/><use href="#hx" x="350.4" y="27.8"/><use href="#hx" x="242.8" y="31.2"/><use href="#hx" x="253.9" y="31.2"/><use href="#hx" x="264.9" y="31.2"/><use href="#hx" x="281.4" y="31.2"/><use href="#hx" x="286.9" y="31.2"/><use href="#hx" x="234.6" y="34.7"/><use href="#hx" x="240.1" y="34.7"/><use href="#hx" x="226.3" y="38.2"/><use href="#hx" x="231.8" y="38.2"/><use href="#hx" x="223.5" y="41.7"/><use href="#hx" x="229.0" y="41.7"/><use href="#hx" x="220.8" y="45.1"/><use href="#hx" x="223.5" y="48.6"/><use href="#hx" x="215.3" y="52.1"/><use href="#hx" x="220.8" y="52.1"/><use href="#hx" x="218.0" y="55.6"/><use href="#hx" x="223.5" y="55.6"/><use href="#hx" x="215.3" y="59.0"/><use href="#hx" x="220.8" y="59.0"/><use href="#hx" x="342.1" y="59.0"/><use href="#hx" x="218.0" y="62.5"/><use href="#hx" x="215.3" y="66.0"/><use href="#hx" x="218.0" y="69.5"/><use href="#hx" x="215.3" y="73.0"/><use href="#hx" x="220.8" y="73.0"/><use href="#hx" x="218.0" y="76.4"/><use href="#hx" x="223.5" y="76.4"/><use href="#hx" x="215.3" y="79.9"/><use href="#hx" x="220.8" y="79.9"/><use href="#hx" x="229.0" y="83.4"/><use href="#hx" x="234.6" y="83.4"/><use href="#hx" x="245.6" y="83.4"/><use href="#hx" x="226.3" y="86.9"/><use href="#hx" x="229.0" y="90.3"/><use href="#hx" x="234.6" y="90.3"/><use href="#hx" x="231.8" y="93.8"/><use href="#hx" x="234.6" y="97.3"/><use href="#hx" x="284.2" y="97.3"/><use href="#hx" x="226.3" y="100.8"/><use href="#hx" x="281.4" y="100.8"/><use href="#hx" x="229.0" y="104.3"/><use href="#hx" x="234.6" y="104.3"/><use href="#hx" x="220.8" y="107.7"/><use href="#hx" x="223.5" y="111.2"/><use href="#hx" x="220.8" y="114.7"/><use href="#hx" x="218.0" y="118.2"/><use href="#hx" x="223.5" y="118.2"/><use href="#hx" x="215.3" y="121.6"/><use href="#hx" x="220.8" y="121.6"/><use href="#hx" x="218.0" y="125.1"/><use href="#hx" x="215.3" y="128.6"/><use href="#hx" x="218.0" y="132.1"/><use href="#hx" x="215.3" y="135.5"/><use href="#hx" x="218.0" y="139.0"/><use href="#hx" x="215.3" y="142.5"/></g>
<g fill="#b8cee4" stroke="#b8cee4"><use href="#hx" x="309.0" y="24.3"/><use href="#hx" x="347.6" y="24.3"/><use href="#hx" x="366.9" y="27.8"/><use href="#hx" x="292.5" y="31.2"/><use href="#hx" x="253.9" y="38.2"/><use href="#hx" x="259.4" y="38.2"/><use href="#hx" x="286.9" y="38.2"/><use href="#hx" x="245.6" y="41.7"/><use href="#hx" x="251.1" y="41.7"/><use href="#hx" x="256.6" y="41.7"/><use href="#hx" x="237.3" y="45.1"/><use href="#hx" x="242.8" y="45.1"/><use href="#hx" x="253.9" y="45.1"/><use href="#hx" x="234.6" y="48.6"/><use href="#hx" x="237.3" y="52.1"/><use href="#hx" x="240.1" y="55.6"/><use href="#hx" x="251.1" y="55.6"/><use href="#hx" x="237.3" y="59.0"/><use href="#hx" x="242.8" y="59.0"/><use href="#hx" x="248.3" y="59.0"/><use href="#hx" x="240.1" y="62.5"/><use href="#hx" x="256.6" y="62.5"/><use href="#hx" x="278.7" y="62.5"/><use href="#hx" x="231.8" y="66.0"/><use href="#hx" x="242.8" y="66.0"/><use href="#hx" x="234.6" y="69.5"/><use href="#hx" x="240.1" y="69.5"/><use href="#hx" x="256.6" y="69.5"/><use href="#hx" x="237.3" y="73.0"/><use href="#hx" x="248.3" y="73.0"/><use href="#hx" x="240.1" y="76.4"/><use href="#hx" x="251.1" y="76.4"/><use href="#hx" x="251.1" y="83.4"/><use href="#hx" x="262.1" y="83.4"/><use href="#hx" x="267.6" y="83.4"/><use href="#hx" x="278.7" y="83.4"/><use href="#hx" x="284.2" y="83.4"/><use href="#hx" x="366.9" y="83.4"/><use href="#hx" x="248.3" y="86.9"/><use href="#hx" x="270.4" y="86.9"/><use href="#hx" x="256.6" y="90.3"/><use href="#hx" x="267.6" y="90.3"/><use href="#hx" x="273.2" y="90.3"/><use href="#hx" x="284.2" y="90.3"/><use href="#hx" x="242.8" y="93.8"/><use href="#hx" x="248.3" y="93.8"/><use href="#hx" x="259.4" y="93.8"/><use href="#hx" x="264.9" y="93.8"/><use href="#hx" x="275.9" y="93.8"/><use href="#hx" x="303.5" y="93.8"/><use href="#hx" x="245.6" y="97.3"/><use href="#hx" x="256.6" y="97.3"/><use href="#hx" x="267.6" y="97.3"/><use href="#hx" x="253.9" y="100.8"/><use href="#hx" x="264.9" y="100.8"/><use href="#hx" x="270.4" y="100.8"/><use href="#hx" x="275.9" y="100.8"/><use href="#hx" x="267.6" y="104.3"/><use href="#hx" x="289.7" y="104.3"/><use href="#hx" x="248.3" y="107.7"/><use href="#hx" x="259.4" y="107.7"/><use href="#hx" x="275.9" y="107.7"/><use href="#hx" x="245.6" y="111.2"/><use href="#hx" x="251.1" y="111.2"/><use href="#hx" x="273.2" y="111.2"/><use href="#hx" x="237.3" y="114.7"/><use href="#hx" x="264.9" y="114.7"/><use href="#hx" x="240.1" y="118.2"/><use href="#hx" x="256.6" y="118.2"/><use href="#hx" x="231.8" y="121.6"/><use href="#hx" x="237.3" y="121.6"/><use href="#hx" x="245.6" y="125.1"/><use href="#hx" x="231.8" y="128.6"/><use href="#hx" x="229.0" y="132.1"/><use href="#hx" x="226.3" y="135.5"/><use href="#hx" x="226.3" y="142.5"/></g>
<g fill="#d1e2ee" stroke="#d1e2ee"><use href="#hx" x="314.5" y="24.3"/><use href="#hx" x="342.1" y="24.3"/><use href="#hx" x="353.1" y="24.3"/><use href="#hx" x="344.9" y="27.8"/><use href="#hx" x="303.5" y="31.2"/><use href="#hx" x="273.2" y="34.7"/><use href="#hx" x="278.7" y="34.7"/><use href="#hx" x="289.7" y="34.7"/><use href="#hx" x="264.9" y="38.2"/><use href="#hx" x="281.4" y="38.2"/><use href="#hx" x="262.1" y="41.7"/><use href="#hx" x="251.1" y="48.6"/><use href="#hx" x="242.8" y="52.1"/><use href="#hx" x="248.3" y="52.1"/><use href="#hx" x="245.6" y="55.6"/><use href="#hx" x="253.9" y="86.9"/><use href="#hx" x="275.9" y="86.9"/><use href="#hx" x="286.9" y="93.8"/><use href="#hx" x="273.2" y="97.3"/><use href="#hx" x="286.9" y="100.8"/><use href="#hx" x="278.7" y="104.3"/><use href="#hx" x="284.2" y="104.3"/><use href="#hx" x="253.9" y="107.7"/><use href="#hx" x="270.4" y="107.7"/><use href="#hx" x="281.4" y="107.7"/><use href="#hx" x="286.9" y="107.7"/><use href="#hx" x="256.6" y="111.2"/><use href="#hx" x="251.1" y="118.2"/><use href="#hx" x="248.3" y="121.6"/><use href="#hx" x="253.9" y="121.6"/><use href="#hx" x="240.1" y="125.1"/><use href="#hx" x="237.3" y="128.6"/><use href="#hx" x="234.6" y="132.1"/><use href="#hx" x="231.8" y="135.5"/><use href="#hx" x="234.6" y="139.0"/></g>
<g fill="#894aa1" stroke="#894aa1"><use href="#hx" x="207.0" y="27.8"/><use href="#hx" x="212.5" y="27.8"/><use href="#hx" x="218.0" y="27.8"/><use href="#hx" x="223.5" y="27.8"/><use href="#hx" x="215.3" y="31.2"/><use href="#hx" x="212.5" y="34.7"/><use href="#hx" x="209.7" y="38.2"/><use href="#hx" x="207.0" y="41.7"/><use href="#hx" x="204.2" y="45.1"/></g>
<g fill="#8c63ad" stroke="#8c63ad"><use href="#hx" x="229.0" y="27.8"/><use href="#hx" x="234.6" y="27.8"/><use href="#hx" x="251.1" y="27.8"/><use href="#hx" x="220.8" y="31.2"/><use href="#hx" x="218.0" y="34.7"/><use href="#hx" x="212.5" y="41.7"/><use href="#hx" x="207.0" y="48.6"/><use href="#hx" x="204.2" y="52.1"/><use href="#hx" x="207.0" y="55.6"/><use href="#hx" x="204.2" y="59.0"/><use href="#hx" x="207.0" y="62.5"/><use href="#hx" x="207.0" y="83.4"/><use href="#hx" x="204.2" y="86.9"/><use href="#hx" x="209.7" y="86.9"/><use href="#hx" x="207.0" y="90.3"/><use href="#hx" x="204.2" y="93.8"/><use href="#hx" x="207.0" y="97.3"/><use href="#hx" x="204.2" y="100.8"/><use href="#hx" x="207.0" y="104.3"/><use href="#hx" x="204.2" y="107.7"/><use href="#hx" x="207.0" y="111.2"/></g>
<g fill="#8c96c6" stroke="#8c96c6"><use href="#hx" x="267.6" y="27.8"/><use href="#hx" x="273.2" y="27.8"/><use href="#hx" x="278.7" y="27.8"/><use href="#hx" x="284.2" y="27.8"/><use href="#hx" x="231.8" y="31.2"/><use href="#hx" x="237.3" y="31.2"/><use href="#hx" x="229.0" y="34.7"/><use href="#hx" x="220.8" y="38.2"/><use href="#hx" x="218.0" y="41.7"/><use href="#hx" x="215.3" y="45.1"/><use href="#hx" x="218.0" y="48.6"/><use href="#hx" x="212.5" y="55.6"/><use href="#hx" x="209.7" y="59.0"/><use href="#hx" x="212.5" y="62.5"/><use href="#hx" x="209.7" y="66.0"/><use href="#hx" x="212.5" y="69.5"/><use href="#hx" x="209.7" y="73.0"/><use href="#hx" x="212.5" y="76.4"/><use href="#hx" x="209.7" y="79.9"/><use href="#hx" x="223.5" y="83.4"/><use href="#hx" x="220.8" y="86.9"/><use href="#hx" x="223.5" y="90.3"/><use href="#hx" x="220.8" y="93.8"/><use href="#hx" x="223.5" y="97.3"/><use href="#hx" x="220.8" y="100.8"/><use href="#hx" x="223.5" y="104.3"/><use href="#hx" x="215.3" y="107.7"/><use href="#hx" x="218.0" y="111.2"/><use href="#hx" x="215.3" y="114.7"/><use href="#hx" x="209.7" y="121.6"/><use href="#hx" x="212.5" y="125.1"/><use href="#hx" x="209.7" y="128.6"/><use href="#hx" x="212.5" y="132.1"/><use href="#hx" x="209.7" y="135.5"/><use href="#hx" x="212.5" y="139.0"/><use href="#hx" x="209.7" y="142.5"/></g>
<g fill="#7e2d89" stroke="#7e2d89"><use href="#hx" x="204.2" y="31.2"/><use href="#hx" x="209.7" y="31.2"/><use href="#hx" x="207.0" y="34.7"/><use href="#hx" x="204.2" y="38.2"/></g></g>
</g>
<rect x="206.20" y="22.05" width="165.45" height="120.45" fill="none" stroke="#333" stroke-opacity="0.5" stroke-width="0.90"/>
<rect x="206.20" y="7.75" width="165.45" height="14.30" fill="#d9d9d9" stroke="#333" stroke-opacity="0.5" stroke-width="0.90"/>
<line x1="205.75" y1="22.05" x2="372.10" y2="22.05" stroke="#333" stroke-width="0.8"/>
<text x="288.92" y="17.60" font-size="7.5" stroke-width="0" fill="#222" text-anchor="middle">Intersection over Union</text>
<text x="215.80" y="136.00" font-size="9.2" fill="#000" stroke="#000" stroke-width="0.15">Spearman&#39;s rho = 0.3</text>
<defs><clipPath id="cp02"><rect x="376.50" y="22.05" width="165.45" height="120.45"/></clipPath></defs>
<g clip-path="url(#cp02)"><line x1="391.27" y1="22.05" x2="391.27" y2="142.50" stroke="#ebebeb" stroke-width="0.45"/><line x1="424.75" y1="22.05" x2="424.75" y2="142.50" stroke="#ebebeb" stroke-width="0.45"/><line x1="458.24" y1="22.05" x2="458.24" y2="142.50" stroke="#ebebeb" stroke-width="0.45"/><line x1="491.72" y1="22.05" x2="491.72" y2="142.50" stroke="#ebebeb" stroke-width="0.45"/><line x1="525.21" y1="22.05" x2="525.21" y2="142.50" stroke="#ebebeb" stroke-width="0.45"/><line x1="376.50" y1="127.44" x2="541.95" y2="127.44" stroke="#ebebeb" stroke-width="0.45"/><line x1="376.50" y1="97.33" x2="541.95" y2="97.33" stroke="#ebebeb" stroke-width="0.45"/><line x1="376.50" y1="67.22" x2="541.95" y2="67.22" stroke="#ebebeb" stroke-width="0.45"/><line x1="376.50" y1="37.11" x2="541.95" y2="37.11" stroke="#ebebeb" stroke-width="0.45"/><line x1="408.01" y1="22.05" x2="408.01" y2="142.50" stroke="#ebebeb" stroke-width="0.9"/><line x1="441.49" y1="22.05" x2="441.49" y2="142.50" stroke="#ebebeb" stroke-width="0.9"/><line x1="474.98" y1="22.05" x2="474.98" y2="142.50" stroke="#ebebeb" stroke-width="0.9"/><line x1="508.46" y1="22.05" x2="508.46" y2="142.50" stroke="#ebebeb" stroke-width="0.9"/><line x1="376.50" y1="112.39" x2="541.95" y2="112.39" stroke="#ebebeb" stroke-width="0.9"/><line x1="376.50" y1="82.28" x2="541.95" y2="82.28" stroke="#ebebeb" stroke-width="0.9"/><line x1="376.50" y1="52.16" x2="541.95" y2="52.16" stroke="#ebebeb" stroke-width="0.9"/>
<g filter="url(#bl)"><g fill="#6e016b" stroke="#6e016b"><use href="#hx" x="377.3" y="20.8"/><use href="#hx" x="382.8" y="20.8"/><use href="#hx" x="388.3" y="20.8"/><use href="#hx" x="393.8" y="20.8"/><use href="#hx" x="399.3" y="20.8"/><use href="#hx" x="374.5" y="24.3"/><use href="#hx" x="380.0" y="24.3"/><use href="#hx" x="385.6" y="24.3"/><use href="#hx" x="391.1" y="24.3"/></g>
<g fill="#7e2d89" stroke="#7e2d89"><use href="#hx" x="404.9" y="20.8"/><use href="#hx" x="410.4" y="20.8"/><use href="#hx" x="415.9" y="20.8"/><use href="#hx" x="396.6" y="24.3"/><use href="#hx" x="402.1" y="24.3"/><use href="#hx" x="377.3" y="27.8"/><use href="#hx" x="374.5" y="31.2"/><use href="#hx" x="377.3" y="34.7"/><use href="#hx" x="374.5" y="38.2"/><use href="#hx" x="377.3" y="41.7"/><use href="#hx" x="374.5" y="45.1"/><use href="#hx" x="377.3" y="48.6"/><use href="#hx" x="374.5" y="52.1"/><use href="#hx" x="380.0" y="52.1"/></g>
<g fill="#894aa1" stroke="#894aa1"><use href="#hx" x="421.4" y="20.8"/><use href="#hx" x="426.9" y="20.8"/><use href="#hx" x="407.6" y="24.3"/><use href="#hx" x="413.1" y="24.3"/><use href="#hx" x="382.8" y="27.8"/><use href="#hx" x="388.3" y="27.8"/><use href="#hx" x="380.0" y="31.2"/><use href="#hx" x="385.6" y="31.2"/><use href="#hx" x="382.8" y="34.7"/><use href="#hx" x="388.3" y="34.7"/><use href="#hx" x="380.0" y="38.2"/><use href="#hx" x="385.6" y="38.2"/><use href="#hx" x="382.8" y="41.7"/><use href="#hx" x="388.3" y="41.7"/><use href="#hx" x="380.0" y="45.1"/><use href="#hx" x="382.8" y="48.6"/><use href="#hx" x="388.3" y="48.6"/><use href="#hx" x="385.6" y="52.1"/><use href="#hx" x="377.3" y="55.6"/><use href="#hx" x="382.8" y="55.6"/><use href="#hx" x="388.3" y="55.6"/><use href="#hx" x="374.5" y="59.0"/><use href="#hx" x="380.0" y="59.0"/><use href="#hx" x="377.3" y="62.5"/><use href="#hx" x="374.5" y="66.0"/><use href="#hx" x="377.3" y="69.5"/></g>
<g fill="#8c63ad" stroke="#8c63ad"><use href="#hx" x="432.4" y="20.8"/><use href="#hx" x="437.9" y="20.8"/><use href="#hx" x="443.5" y="20.8"/><use href="#hx" x="449.0" y="20.8"/><use href="#hx" x="418.6" y="24.3"/><use href="#hx" x="424.2" y="24.3"/><use href="#hx" x="429.7" y="24.3"/><use href="#hx" x="393.8" y="27.8"/><use href="#hx" x="391.1" y="31.2"/><use href="#hx" x="385.6" y="45.1"/><use href="#hx" x="391.1" y="45.1"/><use href="#hx" x="391.1" y="52.1"/><use href="#hx" x="385.6" y="59.0"/><use href="#hx" x="382.8" y="62.5"/><use href="#hx" x="388.3" y="62.5"/><use href="#hx" x="380.0" y="66.0"/><use href="#hx" x="382.8" y="69.5"/><use href="#hx" x="374.5" y="73.0"/><use href="#hx" x="380.0" y="73.0"/><use href="#hx" x="377.3" y="76.4"/></g>
<g fill="#8d7cb9" stroke="#8d7cb9"><use href="#hx" x="454.5" y="20.8"/><use href="#hx" x="460.0" y="20.8"/><use href="#hx" x="465.5" y="20.8"/><use href="#hx" x="435.2" y="24.3"/><use href="#hx" x="399.3" y="27.8"/><use href="#hx" x="404.9" y="27.8"/><use href="#hx" x="396.6" y="31.2"/><use href="#hx" x="393.8" y="34.7"/><use href="#hx" x="391.1" y="38.2"/><use href="#hx" x="393.8" y="41.7"/><use href="#hx" x="393.8" y="48.6"/><use href="#hx" x="393.8" y="55.6"/><use href="#hx" x="391.1" y="59.0"/><use href="#hx" x="393.8" y="62.5"/><use href="#hx" x="385.6" y="66.0"/><use href="#hx" x="391.1" y="66.0"/><use href="#hx" x="388.3" y="69.5"/><use href="#hx" x="385.6" y="73.0"/><use href="#hx" x="382.8" y="76.4"/><use href="#hx" x="388.3" y="76.4"/><use href="#hx" x="374.5" y="79.9"/></g>
<g fill="#8c96c6" stroke="#8c96c6"><use href="#hx" x="471.0" y="20.8"/><use href="#hx" x="476.6" y="20.8"/><use href="#hx" x="482.1" y="20.8"/><use href="#hx" x="487.6" y="20.8"/><use href="#hx" x="440.7" y="24.3"/><use href="#hx" x="446.2" y="24.3"/><use href="#hx" x="451.7" y="24.3"/><use href="#hx" x="457.2" y="24.3"/><use href="#hx" x="410.4" y="27.8"/><use href="#hx" x="402.1" y="31.2"/><use href="#hx" x="399.3" y="34.7"/><use href="#hx" x="396.6" y="38.2"/><use href="#hx" x="399.3" y="41.7"/><use href="#hx" x="396.6" y="45.1"/><use href="#hx" x="399.3" y="48.6"/><use href="#hx" x="396.6" y="52.1"/><use href="#hx" x="399.3" y="55.6"/><use href="#hx" x="396.6" y="59.0"/><use href="#hx" x="393.8" y="69.5"/><use href="#hx" x="391.1" y="73.0"/><use href="#hx" x="380.0" y="79.9"/><use href="#hx" x="385.6" y="79.9"/></g>
<g fill="#97add2" stroke="#97add2"><use href="#hx" x="493.1" y="20.8"/><use href="#hx" x="498.6" y="20.8"/><use href="#hx" x="504.1" y="20.8"/><use href="#hx" x="509.6" y="20.8"/><use href="#hx" x="515.2" y="20.8"/><use href="#hx" x="520.7" y="20.8"/><use href="#hx" x="526.2" y="20.8"/><use href="#hx" x="531.7" y="20.8"/><use href="#hx" x="537.2" y="20.8"/><use href="#hx" x="542.7" y="20.8"/><use href="#hx" x="462.8" y="24.3"/><use href="#hx" x="468.3" y="24.3"/><use href="#hx" x="495.9" y="24.3"/><use href="#hx" x="501.4" y="24.3"/><use href="#hx" x="506.9" y="24.3"/><use href="#hx" x="415.9" y="27.8"/><use href="#hx" x="421.4" y="27.8"/><use href="#hx" x="426.9" y="27.8"/><use href="#hx" x="437.9" y="27.8"/><use href="#hx" x="407.6" y="31.2"/><use href="#hx" x="413.1" y="31.2"/><use href="#hx" x="418.6" y="31.2"/><use href="#hx" x="424.2" y="31.2"/><use href="#hx" x="415.9" y="34.7"/><use href="#hx" x="421.4" y="34.7"/><use href="#hx" x="402.1" y="38.2"/><use href="#hx" x="407.6" y="38.2"/><use href="#hx" x="404.9" y="41.7"/><use href="#hx" x="410.4" y="41.7"/><use href="#hx" x="402.1" y="45.1"/><use href="#hx" x="404.9" y="48.6"/><use href="#hx" x="415.9" y="48.6"/><use href="#hx" x="426.9" y="48.6"/><use href="#hx" x="402.1" y="52.1"/><use href="#hx" x="407.6" y="52.1"/><use href="#hx" x="418.6" y="52.1"/><use href="#hx" x="473.8" y="52.1"/><use href="#hx" x="404.9" y="55.6"/><use href="#hx" x="415.9" y="55.6"/><use href="#hx" x="460.0" y="55.6"/><use href="#hx" x="487.6" y="55.6"/><use href="#hx" x="402.1" y="59.0"/><use href="#hx" x="407.6" y="59.0"/><use href="#hx" x="429.7" y="59.0"/><use href="#hx" x="506.9" y="59.0"/><use href="#hx" x="399.3" y="62.5"/><use href="#hx" x="404.9" y="62.5"/><use href="#hx" x="396.6" y="66.0"/><use href="#hx" x="402.1" y="66.0"/><use href="#hx" x="407.6" y="66.0"/><use href="#hx" x="512.4" y="66.0"/><use href="#hx" x="399.3" y="69.5"/><use href="#hx" x="396.6" y="73.0"/><use href="#hx" x="393.8" y="76.4"/><use href="#hx" x="377.3" y="83.4"/><use href="#hx" x="382.8" y="83.4"/><use href="#hx" x="374.5" y="86.9"/><use href="#hx" x="380.0" y="86.9"/><use href="#hx" x="377.3" y="90.3"/><use href="#hx" x="382.8" y="90.3"/><use href="#hx" x="380.0" y="93.8"/><use href="#hx" x="377.3" y="97.3"/></g>
<g fill="#b8cee4" stroke="#b8cee4"><use href="#hx" x="473.8" y="24.3"/><use href="#hx" x="517.9" y="24.3"/><use href="#hx" x="523.4" y="24.3"/><use href="#hx" x="528.9" y="24.3"/><use href="#hx" x="534.5" y="24.3"/><use href="#hx" x="540.0" y="24.3"/><use href="#hx" x="460.0" y="27.8"/><use href="#hx" x="440.7" y="31.2"/><use href="#hx" x="451.7" y="31.2"/><use href="#hx" x="457.2" y="31.2"/><use href="#hx" x="437.9" y="34.7"/><use href="#hx" x="443.5" y="34.7"/><use href="#hx" x="454.5" y="34.7"/><use href="#hx" x="465.5" y="34.7"/><use href="#hx" x="446.2" y="38.2"/><use href="#hx" x="443.5" y="41.7"/><use href="#hx" x="449.0" y="41.7"/><use href="#hx" x="440.7" y="45.1"/><use href="#hx" x="451.7" y="45.1"/><use href="#hx" x="437.9" y="48.6"/><use href="#hx" x="449.0" y="48.6"/><use href="#hx" x="531.7" y="48.6"/><use href="#hx" x="446.2" y="52.1"/><use href="#hx" x="457.2" y="52.1"/><use href="#hx" x="462.8" y="52.1"/><use href="#hx" x="437.9" y="55.6"/><use href="#hx" x="443.5" y="55.6"/><use href="#hx" x="454.5" y="55.6"/><use href="#hx" x="440.7" y="59.0"/><use href="#hx" x="446.2" y="59.0"/><use href="#hx" x="451.7" y="59.0"/><use href="#hx" x="432.4" y="62.5"/><use href="#hx" x="443.5" y="62.5"/><use href="#hx" x="449.0" y="62.5"/><use href="#hx" x="460.0" y="62.5"/><use href="#hx" x="424.2" y="66.0"/><use href="#hx" x="451.7" y="66.0"/><use href="#hx" x="421.4" y="69.5"/><use href="#hx" x="449.0" y="69.5"/><use href="#hx" x="460.0" y="69.5"/><use href="#hx" x="413.1" y="73.0"/><use href="#hx" x="415.9" y="76.4"/><use href="#hx" x="407.6" y="79.9"/><use href="#hx" x="418.6" y="79.9"/><use href="#hx" x="393.8" y="83.4"/><use href="#hx" x="396.6" y="86.9"/><use href="#hx" x="393.8" y="90.3"/><use href="#hx" x="391.1" y="93.8"/><use href="#hx" x="388.3" y="97.3"/><use href="#hx" x="399.3" y="97.3"/><use href="#hx" x="385.6" y="100.8"/><use href="#hx" x="382.8" y="104.3"/><use href="#hx" x="374.5" y="107.7"/><use href="#hx" x="374.5" y="121.6"/><use href="#hx" x="377.3" y="125.1"/></g>
<g fill="#d1e2ee" stroke="#d1e2ee"><use href="#hx" x="479.3" y="24.3"/><use href="#hx" x="498.6" y="27.8"/><use href="#hx" x="462.8" y="31.2"/><use href="#hx" x="449.0" y="34.7"/><use href="#hx" x="435.2" y="38.2"/><use href="#hx" x="457.2" y="38.2"/><use href="#hx" x="454.5" y="41.7"/><use href="#hx" x="457.2" y="45.1"/><use href="#hx" x="443.5" y="48.6"/><use href="#hx" x="399.3" y="83.4"/></g>
<g fill="#edf8fb" stroke="#edf8fb"><use href="#hx" x="484.8" y="24.3"/><use href="#hx" x="490.3" y="24.3"/><use href="#hx" x="432.4" y="27.8"/><use href="#hx" x="443.5" y="27.8"/><use href="#hx" x="465.5" y="27.8"/><use href="#hx" x="471.0" y="27.8"/><use href="#hx" x="476.6" y="27.8"/><use href="#hx" x="493.1" y="27.8"/><use href="#hx" x="504.1" y="27.8"/><use href="#hx" x="509.6" y="27.8"/><use href="#hx" x="515.2" y="27.8"/><use href="#hx" x="520.7" y="27.8"/><use href="#hx" x="526.2" y="27.8"/><use href="#hx" x="531.7" y="27.8"/><use href="#hx" x="537.2" y="27.8"/><use href="#hx" x="542.7" y="27.8"/><use href="#hx" x="468.3" y="31.2"/><use href="#hx" x="479.3" y="31.2"/><use href="#hx" x="484.8" y="31.2"/><use href="#hx" x="506.9" y="31.2"/><use href="#hx" x="528.9" y="31.2"/><use href="#hx" x="534.5" y="31.2"/><use href="#hx" x="404.9" y="34.7"/><use href="#hx" x="410.4" y="34.7"/><use href="#hx" x="460.0" y="34.7"/><use href="#hx" x="476.6" y="34.7"/><use href="#hx" x="498.6" y="34.7"/><use href="#hx" x="504.1" y="34.7"/><use href="#hx" x="520.7" y="34.7"/><use href="#hx" x="526.2" y="34.7"/><use href="#hx" x="424.2" y="38.2"/><use href="#hx" x="451.7" y="38.2"/><use href="#hx" x="462.8" y="38.2"/><use href="#hx" x="468.3" y="38.2"/><use href="#hx" x="490.3" y="38.2"/><use href="#hx" x="512.4" y="38.2"/><use href="#hx" x="534.5" y="38.2"/><use href="#hx" x="540.0" y="38.2"/><use href="#hx" x="421.4" y="41.7"/><use href="#hx" x="432.4" y="41.7"/><use href="#hx" x="465.5" y="41.7"/><use href="#hx" x="471.0" y="41.7"/><use href="#hx" x="482.1" y="41.7"/><use href="#hx" x="493.1" y="41.7"/><use href="#hx" x="498.6" y="41.7"/><use href="#hx" x="504.1" y="41.7"/><use href="#hx" x="509.6" y="41.7"/><use href="#hx" x="531.7" y="41.7"/><use href="#hx" x="446.2" y="45.1"/><use href="#hx" x="462.8" y="45.1"/><use href="#hx" x="484.8" y="45.1"/><use href="#hx" x="490.3" y="45.1"/><use href="#hx" x="517.9" y="45.1"/><use href="#hx" x="523.4" y="45.1"/><use href="#hx" x="540.0" y="45.1"/><use href="#hx" x="410.4" y="48.6"/><use href="#hx" x="454.5" y="48.6"/><use href="#hx" x="460.0" y="48.6"/><use href="#hx" x="465.5" y="48.6"/><use href="#hx" x="471.0" y="48.6"/><use href="#hx" x="476.6" y="48.6"/><use href="#hx" x="482.1" y="48.6"/><use href="#hx" x="493.1" y="48.6"/><use href="#hx" x="498.6" y="48.6"/><use href="#hx" x="504.1" y="48.6"/><use href="#hx" x="515.2" y="48.6"/><use href="#hx" x="526.2" y="48.6"/><use href="#hx" x="537.2" y="48.6"/><use href="#hx" x="440.7" y="52.1"/><use href="#hx" x="468.3" y="52.1"/><use href="#hx" x="484.8" y="52.1"/><use href="#hx" x="490.3" y="52.1"/><use href="#hx" x="495.9" y="52.1"/><use href="#hx" x="528.9" y="52.1"/><use href="#hx" x="534.5" y="52.1"/><use href="#hx" x="465.5" y="55.6"/><use href="#hx" x="471.0" y="55.6"/><use href="#hx" x="482.1" y="55.6"/><use href="#hx" x="498.6" y="55.6"/><use href="#hx" x="504.1" y="55.6"/><use href="#hx" x="509.6" y="55.6"/><use href="#hx" x="520.7" y="55.6"/><use href="#hx" x="526.2" y="55.6"/><use href="#hx" x="542.7" y="55.6"/><use href="#hx" x="462.8" y="59.0"/><use href="#hx" x="473.8" y="59.0"/><use href="#hx" x="484.8" y="59.0"/><use href="#hx" x="490.3" y="59.0"/><use href="#hx" x="501.4" y="59.0"/><use href="#hx" x="512.4" y="59.0"/><use href="#hx" x="534.5" y="59.0"/><use href="#hx" x="540.0" y="59.0"/><use href="#hx" x="437.9" y="62.5"/><use href="#hx" x="454.5" y="62.5"/><use href="#hx" x="465.5" y="62.5"/><use href="#hx" x="471.0" y="62.5"/><use href="#hx" x="476.6" y="62.5"/><use href="#hx" x="482.1" y="62.5"/><use href="#hx" x="493.1" y="62.5"/><use href="#hx" x="504.1" y="62.5"/><use href="#hx" x="515.2" y="62.5"/><use href="#hx" x="526.2" y="62.5"/><use href="#hx" x="531.7" y="62.5"/><use href="#hx" x="429.7" y="66.0"/><use href="#hx" x="440.7" y="66.0"/><use href="#hx" x="446.2" y="66.0"/><use href="#hx" x="457.2" y="66.0"/><use href="#hx" x="462.8" y="66.0"/><use href="#hx" x="473.8" y="66.0"/><use href="#hx" x="484.8" y="66.0"/><use href="#hx" x="495.9" y="66.0"/><use href="#hx" x="506.9" y="66.0"/><use href="#hx" x="517.9" y="66.0"/><use href="#hx" x="540.0" y="66.0"/><use href="#hx" x="410.4" y="69.5"/><use href="#hx" x="415.9" y="69.5"/><use href="#hx" x="432.4" y="69.5"/><use href="#hx" x="437.9" y="69.5"/><use href="#hx" x="465.5" y="69.5"/><use href="#hx" x="471.0" y="69.5"/><use href="#hx" x="487.6" y="69.5"/><use href="#hx" x="402.1" y="73.0"/><use href="#hx" x="407.6" y="73.0"/><use href="#hx" x="418.6" y="73.0"/><use href="#hx" x="424.2" y="73.0"/><use href="#hx" x="451.7" y="73.0"/><use href="#hx" x="473.8" y="73.0"/><use href="#hx" x="479.3" y="73.0"/><use href="#hx" x="501.4" y="73.0"/><use href="#hx" x="523.4" y="73.0"/><use href="#hx" x="399.3" y="76.4"/><use href="#hx" x="410.4" y="76.4"/><use href="#hx" x="421.4" y="76.4"/><use href="#hx" x="443.5" y="76.4"/><use href="#hx" x="449.0" y="76.4"/><use href="#hx" x="471.0" y="76.4"/><use href="#hx" x="520.7" y="76.4"/><use href="#hx" x="396.6" y="79.9"/><use href="#hx" x="402.1" y="79.9"/><use href="#hx" x="413.1" y="79.9"/><use href="#hx" x="435.2" y="79.9"/><use href="#hx" x="479.3" y="79.9"/><use href="#hx" x="410.4" y="83.4"/><use href="#hx" x="415.9" y="83.4"/><use href="#hx" x="476.6" y="83.4"/><use href="#hx" x="407.6" y="86.9"/><use href="#hx" x="418.6" y="86.9"/><use href="#hx" x="440.7" y="86.9"/><use href="#hx" x="399.3" y="90.3"/><use href="#hx" x="410.4" y="90.3"/><use href="#hx" x="432.4" y="90.3"/><use href="#hx" x="437.9" y="90.3"/><use href="#hx" x="460.0" y="90.3"/><use href="#hx" x="504.1" y="90.3"/><use href="#hx" x="396.6" y="93.8"/><use href="#hx" x="402.1" y="93.8"/><use href="#hx" x="424.2" y="93.8"/><use href="#hx" x="446.2" y="93.8"/><use href="#hx" x="451.7" y="93.8"/><use href="#hx" x="393.8" y="97.3"/><use href="#hx" x="404.9" y="97.3"/><use href="#hx" x="415.9" y="97.3"/><use href="#hx" x="421.4" y="97.3"/><use href="#hx" x="437.9" y="97.3"/><use href="#hx" x="443.5" y="97.3"/><use href="#hx" x="391.1" y="100.8"/><use href="#hx" x="407.6" y="100.8"/><use href="#hx" x="429.7" y="100.8"/><use href="#hx" x="388.3" y="104.3"/><use href="#hx" x="399.3" y="104.3"/><use href="#hx" x="404.9" y="104.3"/><use href="#hx" x="380.0" y="107.7"/><use href="#hx" x="385.6" y="107.7"/><use href="#hx" x="391.1" y="107.7"/><use href="#hx" x="382.8" y="111.2"/><use href="#hx" x="404.9" y="111.2"/><use href="#hx" x="410.4" y="111.2"/><use href="#hx" x="374.5" y="114.7"/><use href="#hx" x="388.3" y="118.2"/><use href="#hx" x="393.8" y="118.2"/><use href="#hx" x="410.4" y="118.2"/><use href="#hx" x="415.9" y="118.2"/><use href="#hx" x="380.0" y="121.6"/><use href="#hx" x="382.8" y="125.1"/><use href="#hx" x="377.3" y="132.1"/><use href="#hx" x="382.8" y="139.0"/></g>
<g fill="#a5c1dc" stroke="#a5c1dc"><use href="#hx" x="512.4" y="24.3"/><use href="#hx" x="449.0" y="27.8"/><use href="#hx" x="454.5" y="27.8"/><use href="#hx" x="429.7" y="31.2"/><use href="#hx" x="435.2" y="31.2"/><use href="#hx" x="446.2" y="31.2"/><use href="#hx" x="426.9" y="34.7"/><use href="#hx" x="432.4" y="34.7"/><use href="#hx" x="413.1" y="38.2"/><use href="#hx" x="418.6" y="38.2"/><use href="#hx" x="429.7" y="38.2"/><use href="#hx" x="440.7" y="38.2"/><use href="#hx" x="501.4" y="38.2"/><use href="#hx" x="415.9" y="41.7"/><use href="#hx" x="426.9" y="41.7"/><use href="#hx" x="437.9" y="41.7"/><use href="#hx" x="460.0" y="41.7"/><use href="#hx" x="487.6" y="41.7"/><use href="#hx" x="407.6" y="45.1"/><use href="#hx" x="413.1" y="45.1"/><use href="#hx" x="418.6" y="45.1"/><use href="#hx" x="424.2" y="45.1"/><use href="#hx" x="429.7" y="45.1"/><use href="#hx" x="435.2" y="45.1"/><use href="#hx" x="468.3" y="45.1"/><use href="#hx" x="473.8" y="45.1"/><use href="#hx" x="495.9" y="45.1"/><use href="#hx" x="421.4" y="48.6"/><use href="#hx" x="432.4" y="48.6"/><use href="#hx" x="487.6" y="48.6"/><use href="#hx" x="413.1" y="52.1"/><use href="#hx" x="424.2" y="52.1"/><use href="#hx" x="429.7" y="52.1"/><use href="#hx" x="435.2" y="52.1"/><use href="#hx" x="451.7" y="52.1"/><use href="#hx" x="479.3" y="52.1"/><use href="#hx" x="501.4" y="52.1"/><use href="#hx" x="506.9" y="52.1"/><use href="#hx" x="523.4" y="52.1"/><use href="#hx" x="410.4" y="55.6"/><use href="#hx" x="421.4" y="55.6"/><use href="#hx" x="426.9" y="55.6"/><use href="#hx" x="432.4" y="55.6"/><use href="#hx" x="449.0" y="55.6"/><use href="#hx" x="476.6" y="55.6"/><use href="#hx" x="493.1" y="55.6"/><use href="#hx" x="537.2" y="55.6"/><use href="#hx" x="413.1" y="59.0"/><use href="#hx" x="418.6" y="59.0"/><use href="#hx" x="424.2" y="59.0"/><use href="#hx" x="435.2" y="59.0"/><use href="#hx" x="457.2" y="59.0"/><use href="#hx" x="468.3" y="59.0"/><use href="#hx" x="479.3" y="59.0"/><use href="#hx" x="495.9" y="59.0"/><use href="#hx" x="523.4" y="59.0"/><use href="#hx" x="410.4" y="62.5"/><use href="#hx" x="415.9" y="62.5"/><use href="#hx" x="421.4" y="62.5"/><use href="#hx" x="426.9" y="62.5"/><use href="#hx" x="487.6" y="62.5"/><use href="#hx" x="509.6" y="62.5"/><use href="#hx" x="537.2" y="62.5"/><use href="#hx" x="413.1" y="66.0"/><use href="#hx" x="418.6" y="66.0"/><use href="#hx" x="468.3" y="66.0"/><use href="#hx" x="490.3" y="66.0"/><use href="#hx" x="404.9" y="69.5"/><use href="#hx" x="426.9" y="69.5"/><use href="#hx" x="476.6" y="69.5"/><use href="#hx" x="429.7" y="73.0"/><use href="#hx" x="495.9" y="73.0"/><use href="#hx" x="391.1" y="79.9"/><use href="#hx" x="388.3" y="83.4"/><use href="#hx" x="404.9" y="83.4"/><use href="#hx" x="385.6" y="86.9"/><use href="#hx" x="391.1" y="86.9"/><use href="#hx" x="402.1" y="86.9"/><use href="#hx" x="413.1" y="86.9"/><use href="#hx" x="388.3" y="90.3"/><use href="#hx" x="374.5" y="93.8"/><use href="#hx" x="385.6" y="93.8"/><use href="#hx" x="382.8" y="97.3"/><use href="#hx" x="374.5" y="100.8"/><use href="#hx" x="380.0" y="100.8"/><use href="#hx" x="396.6" y="100.8"/><use href="#hx" x="402.1" y="100.8"/><use href="#hx" x="377.3" y="104.3"/><use href="#hx" x="388.3" y="111.2"/><use href="#hx" x="393.8" y="111.2"/><use href="#hx" x="377.3" y="118.2"/><use href="#hx" x="421.4" y="118.2"/><use href="#hx" x="388.3" y="125.1"/></g></g>
</g>
<rect x="376.50" y="22.05" width="165.45" height="120.45" fill="none" stroke="#333" stroke-opacity="0.5" stroke-width="0.90"/>
<rect x="376.50" y="7.75" width="165.45" height="14.30" fill="#d9d9d9" stroke="#333" stroke-opacity="0.5" stroke-width="0.90"/>
<line x1="376.05" y1="22.05" x2="542.40" y2="22.05" stroke="#333" stroke-width="0.8"/>
<text x="459.23" y="17.60" font-size="7.5" stroke-width="0" fill="#222" text-anchor="middle">Location similarity</text>
<text x="386.10" y="136.00" font-size="9.2" fill="#000" stroke="#000" stroke-width="0.15">Spearman&#39;s rho = 0.19</text>
<defs><clipPath id="cp10"><rect x="35.30" y="161.45" width="165.45" height="120.40"/></clipPath></defs>
<g clip-path="url(#cp10)"><line x1="50.07" y1="161.45" x2="50.07" y2="281.85" stroke="#ebebeb" stroke-width="0.45"/><line x1="83.55" y1="161.45" x2="83.55" y2="281.85" stroke="#ebebeb" stroke-width="0.45"/><line x1="117.04" y1="161.45" x2="117.04" y2="281.85" stroke="#ebebeb" stroke-width="0.45"/><line x1="150.52" y1="161.45" x2="150.52" y2="281.85" stroke="#ebebeb" stroke-width="0.45"/><line x1="184.01" y1="161.45" x2="184.01" y2="281.85" stroke="#ebebeb" stroke-width="0.45"/><line x1="35.30" y1="266.80" x2="200.75" y2="266.80" stroke="#ebebeb" stroke-width="0.45"/><line x1="35.30" y1="236.70" x2="200.75" y2="236.70" stroke="#ebebeb" stroke-width="0.45"/><line x1="35.30" y1="206.60" x2="200.75" y2="206.60" stroke="#ebebeb" stroke-width="0.45"/><line x1="35.30" y1="176.50" x2="200.75" y2="176.50" stroke="#ebebeb" stroke-width="0.45"/><line x1="66.81" y1="161.45" x2="66.81" y2="281.85" stroke="#ebebeb" stroke-width="0.9"/><line x1="100.29" y1="161.45" x2="100.29" y2="281.85" stroke="#ebebeb" stroke-width="0.9"/><line x1="133.78" y1="161.45" x2="133.78" y2="281.85" stroke="#ebebeb" stroke-width="0.9"/><line x1="167.26" y1="161.45" x2="167.26" y2="281.85" stroke="#ebebeb" stroke-width="0.9"/><line x1="35.30" y1="251.75" x2="200.75" y2="251.75" stroke="#ebebeb" stroke-width="0.9"/><line x1="35.30" y1="221.65" x2="200.75" y2="221.65" stroke="#ebebeb" stroke-width="0.9"/><line x1="35.30" y1="191.55" x2="200.75" y2="191.55" stroke="#ebebeb" stroke-width="0.9"/>
<g filter="url(#bl)"><g fill="#6e016b" stroke="#6e016b"><use href="#hx" x="36.1" y="160.2"/><use href="#hx" x="41.6" y="160.2"/><use href="#hx" x="47.1" y="160.2"/><use href="#hx" x="52.6" y="160.2"/><use href="#hx" x="58.1" y="160.2"/><use href="#hx" x="63.7" y="160.2"/><use href="#hx" x="33.3" y="163.7"/><use href="#hx" x="38.8" y="163.7"/><use href="#hx" x="44.4" y="163.7"/></g>
<g fill="#7e2d89" stroke="#7e2d89"><use href="#hx" x="69.2" y="160.2"/><use href="#hx" x="74.7" y="160.2"/><use href="#hx" x="80.2" y="160.2"/><use href="#hx" x="85.7" y="160.2"/><use href="#hx" x="91.2" y="160.2"/><use href="#hx" x="96.7" y="160.2"/><use href="#hx" x="49.9" y="163.7"/><use href="#hx" x="55.4" y="163.7"/></g>
<g fill="#894aa1" stroke="#894aa1"><use href="#hx" x="102.3" y="160.2"/><use href="#hx" x="107.8" y="160.2"/><use href="#hx" x="113.3" y="160.2"/><use href="#hx" x="118.8" y="160.2"/><use href="#hx" x="124.3" y="160.2"/><use href="#hx" x="60.9" y="163.7"/><use href="#hx" x="66.4" y="163.7"/><use href="#hx" x="71.9" y="163.7"/><use href="#hx" x="77.4" y="163.7"/><use href="#hx" x="36.1" y="167.2"/><use href="#hx" x="41.6" y="167.2"/><use href="#hx" x="33.3" y="170.6"/></g>
<g fill="#8c63ad" stroke="#8c63ad"><use href="#hx" x="129.8" y="160.2"/><use href="#hx" x="135.4" y="160.2"/><use href="#hx" x="140.9" y="160.2"/><use href="#hx" x="146.4" y="160.2"/><use href="#hx" x="151.9" y="160.2"/><use href="#hx" x="157.4" y="160.2"/><use href="#hx" x="83.0" y="163.7"/><use href="#hx" x="88.5" y="163.7"/><use href="#hx" x="94.0" y="163.7"/><use href="#hx" x="47.1" y="167.2"/><use href="#hx" x="38.8" y="170.6"/><use href="#hx" x="36.1" y="174.1"/><use href="#hx" x="33.3" y="177.6"/><use href="#hx" x="36.1" y="181.1"/><use href="#hx" x="41.6" y="222.8"/><use href="#hx" x="33.3" y="226.2"/><use href="#hx" x="38.8" y="240.1"/></g>
<g fill="#8d7cb9" stroke="#8d7cb9"><use href="#hx" x="162.9" y="160.2"/><use href="#hx" x="168.4" y="160.2"/><use href="#hx" x="174.0" y="160.2"/><use href="#hx" x="179.5" y="160.2"/><use href="#hx" x="185.0" y="160.2"/><use href="#hx" x="190.5" y="160.2"/><use href="#hx" x="99.5" y="163.7"/><use href="#hx" x="105.0" y="163.7"/><use href="#hx" x="110.5" y="163.7"/><use href="#hx" x="116.0" y="163.7"/><use href="#hx" x="52.6" y="167.2"/><use href="#hx" x="44.4" y="170.6"/><use href="#hx" x="41.6" y="174.1"/><use href="#hx" x="38.8" y="177.6"/><use href="#hx" x="33.3" y="184.5"/><use href="#hx" x="36.1" y="188.0"/><use href="#hx" x="33.3" y="191.5"/><use href="#hx" x="36.1" y="215.8"/><use href="#hx" x="33.3" y="219.3"/><use href="#hx" x="36.1" y="222.8"/><use href="#hx" x="47.1" y="222.8"/><use href="#hx" x="38.8" y="226.2"/><use href="#hx" x="33.3" y="233.2"/></g>
<g fill="#8c96c6" stroke="#8c96c6"><use href="#hx" x="196.0" y="160.2"/><use href="#hx" x="201.5" y="160.2"/><use href="#hx" x="121.6" y="163.7"/><use href="#hx" x="127.1" y="163.7"/><use href="#hx" x="154.7" y="163.7"/><use href="#hx" x="165.7" y="163.7"/><use href="#hx" x="58.1" y="167.2"/><use href="#hx" x="49.9" y="170.6"/><use href="#hx" x="47.1" y="174.1"/><use href="#hx" x="44.4" y="177.6"/><use href="#hx" x="41.6" y="181.1"/><use href="#hx" x="38.8" y="184.5"/><use href="#hx" x="41.6" y="188.0"/><use href="#hx" x="38.8" y="191.5"/><use href="#hx" x="36.1" y="195.0"/><use href="#hx" x="41.6" y="195.0"/><use href="#hx" x="33.3" y="198.4"/><use href="#hx" x="36.1" y="201.9"/><use href="#hx" x="33.3" y="205.4"/><use href="#hx" x="36.1" y="208.9"/><use href="#hx" x="33.3" y="212.3"/><use href="#hx" x="41.6" y="215.8"/><use href="#hx" x="38.8" y="219.3"/><use href="#hx" x="49.9" y="219.3"/><use href="#hx" x="44.4" y="226.2"/><use href="#hx" x="36.1" y="229.7"/><use href="#hx" x="41.6" y="229.7"/><use href="#hx" x="38.8" y="233.2"/><use href="#hx" x="36.1" y="236.7"/><use href="#hx" x="41.6" y="236.7"/><use href="#hx" x="33.3" y="240.1"/><use href="#hx" x="36.1" y="243.6"/><use href="#hx" x="33.3" y="247.1"/><use href="#hx" x="36.1" y="250.6"/></g>
<g fill="#97add2" stroke="#97add2"><use href="#hx" x="132.6" y="163.7"/><use href="#hx" x="138.1" y="163.7"/><use href="#hx" x="160.2" y="163.7"/><use href="#hx" x="171.2" y="163.7"/><use href="#hx" x="176.7" y="163.7"/><use href="#hx" x="182.2" y="163.7"/><use href="#hx" x="187.7" y="163.7"/><use href="#hx" x="63.7" y="167.2"/><use href="#hx" x="69.2" y="167.2"/><use href="#hx" x="74.7" y="167.2"/><use href="#hx" x="80.2" y="167.2"/><use href="#hx" x="91.2" y="167.2"/><use href="#hx" x="107.8" y="167.2"/><use href="#hx" x="55.4" y="170.6"/><use href="#hx" x="60.9" y="170.6"/><use href="#hx" x="52.6" y="174.1"/><use href="#hx" x="58.1" y="174.1"/><use href="#hx" x="49.9" y="177.6"/><use href="#hx" x="47.1" y="181.1"/><use href="#hx" x="52.6" y="181.1"/><use href="#hx" x="44.4" y="184.5"/><use href="#hx" x="47.1" y="188.0"/><use href="#hx" x="44.4" y="191.5"/><use href="#hx" x="47.1" y="195.0"/><use href="#hx" x="38.8" y="198.4"/><use href="#hx" x="44.4" y="198.4"/><use href="#hx" x="41.6" y="201.9"/><use href="#hx" x="44.4" y="205.4"/><use href="#hx" x="41.6" y="208.9"/><use href="#hx" x="47.1" y="208.9"/><use href="#hx" x="38.8" y="212.3"/><use href="#hx" x="44.4" y="212.3"/><use href="#hx" x="47.1" y="215.8"/><use href="#hx" x="44.4" y="219.3"/><use href="#hx" x="55.4" y="219.3"/><use href="#hx" x="52.6" y="222.8"/><use href="#hx" x="58.1" y="222.8"/><use href="#hx" x="85.7" y="222.8"/><use href="#hx" x="49.9" y="226.2"/><use href="#hx" x="60.9" y="226.2"/><use href="#hx" x="88.5" y="226.2"/><use href="#hx" x="47.1" y="229.7"/><use href="#hx" x="44.4" y="233.2"/><use href="#hx" x="49.9" y="233.2"/><use href="#hx" x="47.1" y="236.7"/><use href="#hx" x="44.4" y="240.1"/><use href="#hx" x="41.6" y="243.6"/><use href="#hx" x="47.1" y="243.6"/><use href="#hx" x="63.7" y="243.6"/><use href="#hx" x="38.8" y="247.1"/><use href="#hx" x="49.9" y="247.1"/><use href="#hx" x="41.6" y="250.6"/><use href="#hx" x="80.2" y="250.6"/><use href="#hx" x="168.4" y="250.6"/><use href="#hx" x="33.3" y="254.0"/><use href="#hx" x="38.8" y="254.0"/><use href="#hx" x="44.4" y="254.0"/><use href="#hx" x="36.1" y="257.5"/><use href="#hx" x="41.6" y="257.5"/><use href="#hx" x="33.3" y="261.0"/><use href="#hx" x="44.4" y="261.0"/><use href="#hx" x="36.1" y="264.5"/><use href="#hx" x="41.6" y="264.5"/><use href="#hx" x="33.3" y="267.9"/><use href="#hx" x="38.8" y="267.9"/><use href="#hx" x="36.1" y="271.4"/><use href="#hx" x="41.6" y="271.4"/><use href="#hx" x="33.3" y="274.9"/><use href="#hx" x="36.1" y="278.4"/><use href="#hx" x="33.3" y="281.9"/></g>
<g fill="#d1e2ee" stroke="#d1e2ee"><use href="#hx" x="143.6" y="163.7"/><use href="#hx" x="71.9" y="170.6"/><use href="#hx" x="88.5" y="170.6"/><use href="#hx" x="99.5" y="170.6"/><use href="#hx" x="105.0" y="170.6"/><use href="#hx" x="74.7" y="174.1"/><use href="#hx" x="91.2" y="174.1"/><use href="#hx" x="102.3" y="174.1"/><use href="#hx" x="77.4" y="177.6"/><use href="#hx" x="80.2" y="181.1"/><use href="#hx" x="85.7" y="181.1"/><use href="#hx" x="91.2" y="181.1"/><use href="#hx" x="55.4" y="184.5"/><use href="#hx" x="66.4" y="184.5"/><use href="#hx" x="77.4" y="184.5"/><use href="#hx" x="99.5" y="184.5"/><use href="#hx" x="74.7" y="188.0"/><use href="#hx" x="80.2" y="188.0"/><use href="#hx" x="71.9" y="191.5"/><use href="#hx" x="88.5" y="191.5"/><use href="#hx" x="69.2" y="195.0"/><use href="#hx" x="91.2" y="195.0"/><use href="#hx" x="66.4" y="198.4"/><use href="#hx" x="63.7" y="201.9"/><use href="#hx" x="69.2" y="201.9"/><use href="#hx" x="85.7" y="201.9"/><use href="#hx" x="66.4" y="205.4"/><use href="#hx" x="71.9" y="205.4"/><use href="#hx" x="77.4" y="205.4"/><use href="#hx" x="80.2" y="208.9"/><use href="#hx" x="88.5" y="212.3"/><use href="#hx" x="63.7" y="215.8"/><use href="#hx" x="85.7" y="215.8"/><use href="#hx" x="102.3" y="215.8"/><use href="#hx" x="88.5" y="219.3"/><use href="#hx" x="94.0" y="219.3"/><use href="#hx" x="102.3" y="222.8"/><use href="#hx" x="99.5" y="226.2"/><use href="#hx" x="110.5" y="226.2"/><use href="#hx" x="58.1" y="229.7"/><use href="#hx" x="113.3" y="229.7"/><use href="#hx" x="71.9" y="233.2"/><use href="#hx" x="83.0" y="233.2"/><use href="#hx" x="105.0" y="233.2"/><use href="#hx" x="96.7" y="236.7"/><use href="#hx" x="107.8" y="236.7"/><use href="#hx" x="105.0" y="240.1"/><use href="#hx" x="102.3" y="243.6"/><use href="#hx" x="44.4" y="247.1"/><use href="#hx" x="105.0" y="247.1"/><use href="#hx" x="58.1" y="250.6"/><use href="#hx" x="69.2" y="250.6"/><use href="#hx" x="99.5" y="254.0"/><use href="#hx" x="52.6" y="257.5"/><use href="#hx" x="74.7" y="257.5"/><use href="#hx" x="80.2" y="257.5"/><use href="#hx" x="91.2" y="257.5"/><use href="#hx" x="102.3" y="257.5"/><use href="#hx" x="71.9" y="261.0"/><use href="#hx" x="88.5" y="261.0"/><use href="#hx" x="105.0" y="261.0"/><use href="#hx" x="80.2" y="264.5"/><use href="#hx" x="91.2" y="264.5"/><use href="#hx" x="107.8" y="264.5"/><use href="#hx" x="71.9" y="267.9"/><use href="#hx" x="83.0" y="267.9"/><use href="#hx" x="63.7" y="271.4"/><use href="#hx" x="74.7" y="271.4"/><use href="#hx" x="80.2" y="271.4"/><use href="#hx" x="85.7" y="271.4"/><use href="#hx" x="102.3" y="271.4"/><use href="#hx" x="60.9" y="274.9"/><use href="#hx" x="66.4" y="274.9"/><use href="#hx" x="71.9" y="274.9"/><use href="#hx" x="83.0" y="274.9"/><use href="#hx" x="58.1" y="278.4"/><use href="#hx" x="63.7" y="278.4"/><use href="#hx" x="74.7" y="278.4"/><use href="#hx" x="55.4" y="281.9"/><use href="#hx" x="60.9" y="281.9"/></g>
<g fill="#edf8fb" stroke="#edf8fb"><use href="#hx" x="149.1" y="163.7"/><use href="#hx" x="85.7" y="167.2"/><use href="#hx" x="118.8" y="167.2"/><use href="#hx" x="124.3" y="167.2"/><use href="#hx" x="129.8" y="167.2"/><use href="#hx" x="135.4" y="167.2"/><use href="#hx" x="140.9" y="167.2"/><use href="#hx" x="157.4" y="167.2"/><use href="#hx" x="168.4" y="167.2"/><use href="#hx" x="174.0" y="167.2"/><use href="#hx" x="179.5" y="167.2"/><use href="#hx" x="185.0" y="167.2"/><use href="#hx" x="190.5" y="167.2"/><use href="#hx" x="107.8" y="174.1"/><use href="#hx" x="113.3" y="174.1"/><use href="#hx" x="174.0" y="174.1"/><use href="#hx" x="190.5" y="174.1"/><use href="#hx" x="94.0" y="177.6"/><use href="#hx" x="105.0" y="177.6"/><use href="#hx" x="110.5" y="177.6"/><use href="#hx" x="63.7" y="181.1"/><use href="#hx" x="96.7" y="181.1"/><use href="#hx" x="107.8" y="181.1"/><use href="#hx" x="83.0" y="184.5"/><use href="#hx" x="94.0" y="184.5"/><use href="#hx" x="105.0" y="184.5"/><use href="#hx" x="116.0" y="184.5"/><use href="#hx" x="143.6" y="184.5"/><use href="#hx" x="52.6" y="188.0"/><use href="#hx" x="85.7" y="188.0"/><use href="#hx" x="96.7" y="188.0"/><use href="#hx" x="113.3" y="188.0"/><use href="#hx" x="162.9" y="188.0"/><use href="#hx" x="94.0" y="191.5"/><use href="#hx" x="99.5" y="191.5"/><use href="#hx" x="105.0" y="191.5"/><use href="#hx" x="121.6" y="191.5"/><use href="#hx" x="58.1" y="195.0"/><use href="#hx" x="96.7" y="195.0"/><use href="#hx" x="88.5" y="198.4"/><use href="#hx" x="105.0" y="198.4"/><use href="#hx" x="110.5" y="198.4"/><use href="#hx" x="102.3" y="201.9"/><use href="#hx" x="151.9" y="201.9"/><use href="#hx" x="38.8" y="205.4"/><use href="#hx" x="83.0" y="205.4"/><use href="#hx" x="88.5" y="205.4"/><use href="#hx" x="94.0" y="205.4"/><use href="#hx" x="110.5" y="205.4"/><use href="#hx" x="116.0" y="205.4"/><use href="#hx" x="182.2" y="205.4"/><use href="#hx" x="91.2" y="208.9"/><use href="#hx" x="107.8" y="208.9"/><use href="#hx" x="129.8" y="208.9"/><use href="#hx" x="71.9" y="212.3"/><use href="#hx" x="83.0" y="212.3"/><use href="#hx" x="94.0" y="212.3"/><use href="#hx" x="99.5" y="212.3"/><use href="#hx" x="121.6" y="212.3"/><use href="#hx" x="149.1" y="212.3"/><use href="#hx" x="171.2" y="212.3"/><use href="#hx" x="107.8" y="215.8"/><use href="#hx" x="99.5" y="219.3"/><use href="#hx" x="105.0" y="219.3"/><use href="#hx" x="110.5" y="219.3"/><use href="#hx" x="116.0" y="219.3"/><use href="#hx" x="196.0" y="222.8"/><use href="#hx" x="127.1" y="226.2"/><use href="#hx" x="138.1" y="226.2"/><use href="#hx" x="160.2" y="226.2"/><use href="#hx" x="182.2" y="226.2"/><use href="#hx" x="102.3" y="229.7"/><use href="#hx" x="129.8" y="229.7"/><use href="#hx" x="151.9" y="229.7"/><use href="#hx" x="110.5" y="233.2"/><use href="#hx" x="116.0" y="233.2"/><use href="#hx" x="121.6" y="233.2"/><use href="#hx" x="138.1" y="233.2"/><use href="#hx" x="176.7" y="233.2"/><use href="#hx" x="80.2" y="236.7"/><use href="#hx" x="113.3" y="236.7"/><use href="#hx" x="66.4" y="240.1"/><use href="#hx" x="116.0" y="240.1"/><use href="#hx" x="149.1" y="240.1"/><use href="#hx" x="176.7" y="240.1"/><use href="#hx" x="168.4" y="243.6"/><use href="#hx" x="94.0" y="247.1"/><use href="#hx" x="99.5" y="247.1"/><use href="#hx" x="116.0" y="247.1"/><use href="#hx" x="121.6" y="247.1"/><use href="#hx" x="102.3" y="250.6"/><use href="#hx" x="88.5" y="254.0"/><use href="#hx" x="105.0" y="254.0"/><use href="#hx" x="110.5" y="254.0"/><use href="#hx" x="116.0" y="254.0"/><use href="#hx" x="107.8" y="257.5"/><use href="#hx" x="38.8" y="261.0"/><use href="#hx" x="94.0" y="261.0"/><use href="#hx" x="102.3" y="264.5"/><use href="#hx" x="113.3" y="264.5"/><use href="#hx" x="94.0" y="267.9"/><use href="#hx" x="105.0" y="267.9"/><use href="#hx" x="91.2" y="271.4"/><use href="#hx" x="96.7" y="271.4"/><use href="#hx" x="77.4" y="274.9"/><use href="#hx" x="88.5" y="274.9"/><use href="#hx" x="110.5" y="274.9"/><use href="#hx" x="69.2" y="278.4"/><use href="#hx" x="80.2" y="278.4"/><use href="#hx" x="102.3" y="278.4"/><use href="#hx" x="107.8" y="278.4"/><use href="#hx" x="66.4" y="281.9"/><use href="#hx" x="71.9" y="281.9"/><use href="#hx" x="94.0" y="281.9"/><use href="#hx" x="116.0" y="281.9"/></g>
<g fill="#a5c1dc" stroke="#a5c1dc"><use href="#hx" x="193.3" y="163.7"/><use href="#hx" x="96.7" y="167.2"/><use href="#hx" x="102.3" y="167.2"/><use href="#hx" x="113.3" y="167.2"/><use href="#hx" x="162.9" y="167.2"/><use href="#hx" x="66.4" y="170.6"/><use href="#hx" x="77.4" y="170.6"/><use href="#hx" x="83.0" y="170.6"/><use href="#hx" x="116.0" y="170.6"/><use href="#hx" x="63.7" y="174.1"/><use href="#hx" x="69.2" y="174.1"/><use href="#hx" x="80.2" y="174.1"/><use href="#hx" x="96.7" y="174.1"/><use href="#hx" x="135.4" y="174.1"/><use href="#hx" x="55.4" y="177.6"/><use href="#hx" x="60.9" y="177.6"/><use href="#hx" x="71.9" y="177.6"/><use href="#hx" x="88.5" y="177.6"/><use href="#hx" x="58.1" y="181.1"/><use href="#hx" x="69.2" y="181.1"/><use href="#hx" x="102.3" y="181.1"/><use href="#hx" x="49.9" y="184.5"/><use href="#hx" x="60.9" y="184.5"/><use href="#hx" x="71.9" y="184.5"/><use href="#hx" x="88.5" y="184.5"/><use href="#hx" x="58.1" y="188.0"/><use href="#hx" x="63.7" y="188.0"/><use href="#hx" x="91.2" y="188.0"/><use href="#hx" x="49.9" y="191.5"/><use href="#hx" x="55.4" y="191.5"/><use href="#hx" x="66.4" y="191.5"/><use href="#hx" x="77.4" y="191.5"/><use href="#hx" x="83.0" y="191.5"/><use href="#hx" x="52.6" y="195.0"/><use href="#hx" x="63.7" y="195.0"/><use href="#hx" x="74.7" y="195.0"/><use href="#hx" x="85.7" y="195.0"/><use href="#hx" x="129.8" y="195.0"/><use href="#hx" x="49.9" y="198.4"/><use href="#hx" x="55.4" y="198.4"/><use href="#hx" x="60.9" y="198.4"/><use href="#hx" x="71.9" y="198.4"/><use href="#hx" x="77.4" y="198.4"/><use href="#hx" x="83.0" y="198.4"/><use href="#hx" x="47.1" y="201.9"/><use href="#hx" x="52.6" y="201.9"/><use href="#hx" x="74.7" y="201.9"/><use href="#hx" x="80.2" y="201.9"/><use href="#hx" x="107.8" y="201.9"/><use href="#hx" x="124.3" y="201.9"/><use href="#hx" x="49.9" y="205.4"/><use href="#hx" x="55.4" y="205.4"/><use href="#hx" x="52.6" y="208.9"/><use href="#hx" x="58.1" y="208.9"/><use href="#hx" x="69.2" y="208.9"/><use href="#hx" x="85.7" y="208.9"/><use href="#hx" x="96.7" y="208.9"/><use href="#hx" x="135.4" y="208.9"/><use href="#hx" x="49.9" y="212.3"/><use href="#hx" x="55.4" y="212.3"/><use href="#hx" x="60.9" y="212.3"/><use href="#hx" x="66.4" y="212.3"/><use href="#hx" x="77.4" y="212.3"/><use href="#hx" x="52.6" y="215.8"/><use href="#hx" x="58.1" y="215.8"/><use href="#hx" x="69.2" y="215.8"/><use href="#hx" x="80.2" y="215.8"/><use href="#hx" x="91.2" y="215.8"/><use href="#hx" x="96.7" y="215.8"/><use href="#hx" x="113.3" y="215.8"/><use href="#hx" x="140.9" y="215.8"/><use href="#hx" x="60.9" y="219.3"/><use href="#hx" x="66.4" y="219.3"/><use href="#hx" x="77.4" y="219.3"/><use href="#hx" x="83.0" y="219.3"/><use href="#hx" x="63.7" y="222.8"/><use href="#hx" x="74.7" y="222.8"/><use href="#hx" x="80.2" y="222.8"/><use href="#hx" x="91.2" y="222.8"/><use href="#hx" x="107.8" y="222.8"/><use href="#hx" x="124.3" y="222.8"/><use href="#hx" x="146.4" y="222.8"/><use href="#hx" x="174.0" y="222.8"/><use href="#hx" x="55.4" y="226.2"/><use href="#hx" x="71.9" y="226.2"/><use href="#hx" x="83.0" y="226.2"/><use href="#hx" x="105.0" y="226.2"/><use href="#hx" x="52.6" y="229.7"/><use href="#hx" x="63.7" y="229.7"/><use href="#hx" x="69.2" y="229.7"/><use href="#hx" x="80.2" y="229.7"/><use href="#hx" x="91.2" y="229.7"/><use href="#hx" x="118.8" y="229.7"/><use href="#hx" x="55.4" y="233.2"/><use href="#hx" x="66.4" y="233.2"/><use href="#hx" x="77.4" y="233.2"/><use href="#hx" x="88.5" y="233.2"/><use href="#hx" x="52.6" y="236.7"/><use href="#hx" x="58.1" y="236.7"/><use href="#hx" x="63.7" y="236.7"/><use href="#hx" x="74.7" y="236.7"/><use href="#hx" x="85.7" y="236.7"/><use href="#hx" x="102.3" y="236.7"/><use href="#hx" x="118.8" y="236.7"/><use href="#hx" x="146.4" y="236.7"/><use href="#hx" x="174.0" y="236.7"/><use href="#hx" x="179.5" y="236.7"/><use href="#hx" x="49.9" y="240.1"/><use href="#hx" x="55.4" y="240.1"/><use href="#hx" x="71.9" y="240.1"/><use href="#hx" x="83.0" y="240.1"/><use href="#hx" x="99.5" y="240.1"/><use href="#hx" x="110.5" y="240.1"/><use href="#hx" x="52.6" y="243.6"/><use href="#hx" x="69.2" y="243.6"/><use href="#hx" x="80.2" y="243.6"/><use href="#hx" x="107.8" y="243.6"/><use href="#hx" x="113.3" y="243.6"/><use href="#hx" x="118.8" y="243.6"/><use href="#hx" x="135.4" y="243.6"/><use href="#hx" x="146.4" y="243.6"/><use href="#hx" x="185.0" y="243.6"/><use href="#hx" x="55.4" y="247.1"/><use href="#hx" x="66.4" y="247.1"/><use href="#hx" x="77.4" y="247.1"/><use href="#hx" x="110.5" y="247.1"/><use href="#hx" x="47.1" y="250.6"/><use href="#hx" x="52.6" y="250.6"/><use href="#hx" x="63.7" y="250.6"/><use href="#hx" x="74.7" y="250.6"/><use href="#hx" x="85.7" y="250.6"/><use href="#hx" x="107.8" y="250.6"/><use href="#hx" x="49.9" y="254.0"/><use href="#hx" x="55.4" y="254.0"/><use href="#hx" x="66.4" y="254.0"/><use href="#hx" x="77.4" y="254.0"/><use href="#hx" x="94.0" y="254.0"/><use href="#hx" x="160.2" y="254.0"/><use href="#hx" x="176.7" y="254.0"/><use href="#hx" x="47.1" y="257.5"/><use href="#hx" x="58.1" y="257.5"/><use href="#hx" x="69.2" y="257.5"/><use href="#hx" x="96.7" y="257.5"/><use href="#hx" x="129.8" y="257.5"/><use href="#hx" x="49.9" y="261.0"/><use href="#hx" x="55.4" y="261.0"/><use href="#hx" x="66.4" y="261.0"/><use href="#hx" x="77.4" y="261.0"/><use href="#hx" x="99.5" y="261.0"/><use href="#hx" x="110.5" y="261.0"/><use href="#hx" x="193.3" y="261.0"/><use href="#hx" x="47.1" y="264.5"/><use href="#hx" x="52.6" y="264.5"/><use href="#hx" x="63.7" y="264.5"/><use href="#hx" x="96.7" y="264.5"/><use href="#hx" x="44.4" y="267.9"/><use href="#hx" x="49.9" y="267.9"/><use href="#hx" x="165.7" y="267.9"/><use href="#hx" x="47.1" y="271.4"/><use href="#hx" x="38.8" y="274.9"/><use href="#hx" x="44.4" y="274.9"/><use href="#hx" x="41.6" y="278.4"/><use href="#hx" x="47.1" y="278.4"/><use href="#hx" x="38.8" y="281.9"/></g>
<g fill="#b8cee4" stroke="#b8cee4"><use href="#hx" x="198.8" y="163.7"/><use href="#hx" x="94.0" y="170.6"/><use href="#hx" x="110.5" y="170.6"/><use href="#hx" x="85.7" y="174.1"/><use href="#hx" x="66.4" y="177.6"/><use href="#hx" x="83.0" y="177.6"/><use href="#hx" x="99.5" y="177.6"/><use href="#hx" x="74.7" y="181.1"/><use href="#hx" x="69.2" y="188.0"/><use href="#hx" x="60.9" y="191.5"/><use href="#hx" x="80.2" y="195.0"/><use href="#hx" x="58.1" y="201.9"/><use href="#hx" x="60.9" y="205.4"/><use href="#hx" x="63.7" y="208.9"/><use href="#hx" x="74.7" y="208.9"/><use href="#hx" x="74.7" y="215.8"/><use href="#hx" x="71.9" y="219.3"/><use href="#hx" x="69.2" y="222.8"/><use href="#hx" x="96.7" y="222.8"/><use href="#hx" x="113.3" y="222.8"/><use href="#hx" x="118.8" y="222.8"/><use href="#hx" x="129.8" y="222.8"/><use href="#hx" x="66.4" y="226.2"/><use href="#hx" x="77.4" y="226.2"/><use href="#hx" x="94.0" y="226.2"/><use href="#hx" x="116.0" y="226.2"/><use href="#hx" x="74.7" y="229.7"/><use href="#hx" x="85.7" y="229.7"/><use href="#hx" x="96.7" y="229.7"/><use href="#hx" x="107.8" y="229.7"/><use href="#hx" x="60.9" y="233.2"/><use href="#hx" x="94.0" y="233.2"/><use href="#hx" x="99.5" y="233.2"/><use href="#hx" x="69.2" y="236.7"/><use href="#hx" x="91.2" y="236.7"/><use href="#hx" x="60.9" y="240.1"/><use href="#hx" x="77.4" y="240.1"/><use href="#hx" x="88.5" y="240.1"/><use href="#hx" x="94.0" y="240.1"/><use href="#hx" x="132.6" y="240.1"/><use href="#hx" x="58.1" y="243.6"/><use href="#hx" x="74.7" y="243.6"/><use href="#hx" x="85.7" y="243.6"/><use href="#hx" x="91.2" y="243.6"/><use href="#hx" x="96.7" y="243.6"/><use href="#hx" x="60.9" y="247.1"/><use href="#hx" x="71.9" y="247.1"/><use href="#hx" x="83.0" y="247.1"/><use href="#hx" x="88.5" y="247.1"/><use href="#hx" x="132.6" y="247.1"/><use href="#hx" x="91.2" y="250.6"/><use href="#hx" x="96.7" y="250.6"/><use href="#hx" x="113.3" y="250.6"/><use href="#hx" x="118.8" y="250.6"/><use href="#hx" x="60.9" y="254.0"/><use href="#hx" x="71.9" y="254.0"/><use href="#hx" x="83.0" y="254.0"/><use href="#hx" x="63.7" y="257.5"/><use href="#hx" x="85.7" y="257.5"/><use href="#hx" x="60.9" y="261.0"/><use href="#hx" x="83.0" y="261.0"/><use href="#hx" x="58.1" y="264.5"/><use href="#hx" x="69.2" y="264.5"/><use href="#hx" x="74.7" y="264.5"/><use href="#hx" x="85.7" y="264.5"/><use href="#hx" x="55.4" y="267.9"/><use href="#hx" x="60.9" y="267.9"/><use href="#hx" x="66.4" y="267.9"/><use href="#hx" x="77.4" y="267.9"/><use href="#hx" x="88.5" y="267.9"/><use href="#hx" x="99.5" y="267.9"/><use href="#hx" x="52.6" y="271.4"/><use href="#hx" x="58.1" y="271.4"/><use href="#hx" x="69.2" y="271.4"/><use href="#hx" x="49.9" y="274.9"/><use href="#hx" x="55.4" y="274.9"/><use href="#hx" x="52.6" y="278.4"/><use href="#hx" x="168.4" y="278.4"/><use href="#hx" x="44.4" y="281.9"/><use href="#hx" x="49.9" y="281.9"/></g></g>
</g>
<rect x="35.30" y="161.45" width="165.45" height="120.40" fill="none" stroke="#333" stroke-opacity="0.5" stroke-width="0.90"/>
<rect x="35.30" y="147.20" width="165.45" height="14.25" fill="#d9d9d9" stroke="#333" stroke-opacity="0.5" stroke-width="0.90"/>
<line x1="34.85" y1="161.45" x2="201.20" y2="161.45" stroke="#333" stroke-width="0.8"/>
<text x="118.02" y="157.02" font-size="7.5" stroke-width="0" fill="#222" text-anchor="middle">Oversegmentation rate</text>
<text x="44.90" y="275.35" font-size="9.2" fill="#000" stroke="#000" stroke-width="0.15">Spearman&#39;s rho = -0.08</text>
<line x1="33.10" y1="281.85" x2="35.30" y2="281.85" stroke="#333" stroke-width="0.85"/>
<text x="31.30" y="284.65" font-size="7.1" fill="#4d4d4d" stroke="#4d4d4d" stroke-width="0.15" text-anchor="end">0.00</text>
<line x1="33.10" y1="251.75" x2="35.30" y2="251.75" stroke="#333" stroke-width="0.85"/>
<text x="31.30" y="254.55" font-size="7.1" fill="#4d4d4d" stroke="#4d4d4d" stroke-width="0.15" text-anchor="end">0.25</text>
<line x1="33.10" y1="221.65" x2="35.30" y2="221.65" stroke="#333" stroke-width="0.85"/>
<text x="31.30" y="224.45" font-size="7.1" fill="#4d4d4d" stroke="#4d4d4d" stroke-width="0.15" text-anchor="end">0.50</text>
<line x1="33.10" y1="191.55" x2="35.30" y2="191.55" stroke="#333" stroke-width="0.85"/>
<text x="31.30" y="194.35" font-size="7.1" fill="#4d4d4d" stroke="#4d4d4d" stroke-width="0.15" text-anchor="end">0.75</text>
<line x1="33.10" y1="161.45" x2="35.30" y2="161.45" stroke="#333" stroke-width="0.85"/>
<text x="31.30" y="164.25" font-size="7.1" fill="#4d4d4d" stroke="#4d4d4d" stroke-width="0.15" text-anchor="end">1.00</text>
<line x1="66.81" y1="281.85" x2="66.81" y2="284.05" stroke="#333" stroke-width="0.85"/>
<text x="66.81" y="291.85" font-size="7.1" fill="#4d4d4d" stroke="#4d4d4d" stroke-width="0.15" text-anchor="middle">50</text>
<line x1="100.29" y1="281.85" x2="100.29" y2="284.05" stroke="#333" stroke-width="0.85"/>
<text x="100.29" y="291.85" font-size="7.1" fill="#4d4d4d" stroke="#4d4d4d" stroke-width="0.15" text-anchor="middle">100</text>
<line x1="133.78" y1="281.85" x2="133.78" y2="284.05" stroke="#333" stroke-width="0.85"/>
<text x="133.78" y="291.85" font-size="7.1" fill="#4d4d4d" stroke="#4d4d4d" stroke-width="0.15" text-anchor="middle">150</text>
<line x1="167.26" y1="281.85" x2="167.26" y2="284.05" stroke="#333" stroke-width="0.85"/>
<text x="167.26" y="291.85" font-size="7.1" fill="#4d4d4d" stroke="#4d4d4d" stroke-width="0.15" text-anchor="middle">200</text>
<line x1="200.75" y1="281.85" x2="200.75" y2="284.05" stroke="#333" stroke-width="0.85"/>
<text x="200.75" y="291.85" font-size="7.1" fill="#4d4d4d" stroke="#4d4d4d" stroke-width="0.15" text-anchor="middle">250</text>
<defs><clipPath id="cp11"><rect x="206.20" y="161.45" width="165.45" height="120.40"/></clipPath></defs>
<g clip-path="url(#cp11)"><line x1="220.97" y1="161.45" x2="220.97" y2="281.85" stroke="#ebebeb" stroke-width="0.45"/><line x1="254.45" y1="161.45" x2="254.45" y2="281.85" stroke="#ebebeb" stroke-width="0.45"/><line x1="287.94" y1="161.45" x2="287.94" y2="281.85" stroke="#ebebeb" stroke-width="0.45"/><line x1="321.42" y1="161.45" x2="321.42" y2="281.85" stroke="#ebebeb" stroke-width="0.45"/><line x1="354.91" y1="161.45" x2="354.91" y2="281.85" stroke="#ebebeb" stroke-width="0.45"/><line x1="206.20" y1="266.80" x2="371.65" y2="266.80" stroke="#ebebeb" stroke-width="0.45"/><line x1="206.20" y1="236.70" x2="371.65" y2="236.70" stroke="#ebebeb" stroke-width="0.45"/><line x1="206.20" y1="206.60" x2="371.65" y2="206.60" stroke="#ebebeb" stroke-width="0.45"/><line x1="206.20" y1="176.50" x2="371.65" y2="176.50" stroke="#ebebeb" stroke-width="0.45"/><line x1="237.71" y1="161.45" x2="237.71" y2="281.85" stroke="#ebebeb" stroke-width="0.9"/><line x1="271.19" y1="161.45" x2="271.19" y2="281.85" stroke="#ebebeb" stroke-width="0.9"/><line x1="304.68" y1="161.45" x2="304.68" y2="281.85" stroke="#ebebeb" stroke-width="0.9"/><line x1="338.16" y1="161.45" x2="338.16" y2="281.85" stroke="#ebebeb" stroke-width="0.9"/><line x1="206.20" y1="251.75" x2="371.65" y2="251.75" stroke="#ebebeb" stroke-width="0.9"/><line x1="206.20" y1="221.65" x2="371.65" y2="221.65" stroke="#ebebeb" stroke-width="0.9"/><line x1="206.20" y1="191.55" x2="371.65" y2="191.55" stroke="#ebebeb" stroke-width="0.9"/>
<g filter="url(#bl)"><g fill="#b8cee4" stroke="#b8cee4"><use href="#hx" x="209.7" y="179.4"/><use href="#hx" x="215.3" y="179.4"/><use href="#hx" x="220.8" y="179.4"/><use href="#hx" x="253.9" y="179.4"/><use href="#hx" x="229.0" y="182.9"/><use href="#hx" x="234.6" y="182.9"/><use href="#hx" x="273.2" y="182.9"/><use href="#hx" x="339.3" y="182.9"/><use href="#hx" x="298.0" y="186.4"/><use href="#hx" x="325.6" y="186.4"/><use href="#hx" x="284.2" y="189.9"/><use href="#hx" x="306.3" y="189.9"/><use href="#hx" x="317.3" y="189.9"/><use href="#hx" x="286.9" y="193.3"/><use href="#hx" x="320.0" y="193.3"/><use href="#hx" x="325.6" y="193.3"/><use href="#hx" x="317.3" y="196.8"/><use href="#hx" x="322.8" y="196.8"/><use href="#hx" x="350.4" y="196.8"/><use href="#hx" x="320.0" y="200.3"/><use href="#hx" x="325.6" y="200.3"/><use href="#hx" x="342.1" y="200.3"/><use href="#hx" x="347.6" y="200.3"/><use href="#hx" x="364.2" y="200.3"/><use href="#hx" x="369.7" y="200.3"/><use href="#hx" x="317.3" y="203.8"/><use href="#hx" x="322.8" y="203.8"/><use href="#hx" x="333.8" y="203.8"/><use href="#hx" x="344.9" y="203.8"/><use href="#hx" x="361.4" y="203.8"/><use href="#hx" x="286.9" y="207.2"/><use href="#hx" x="314.5" y="207.2"/><use href="#hx" x="325.6" y="207.2"/><use href="#hx" x="331.1" y="207.2"/><use href="#hx" x="333.8" y="210.7"/><use href="#hx" x="339.3" y="210.7"/><use href="#hx" x="344.9" y="210.7"/><use href="#hx" x="355.9" y="210.7"/><use href="#hx" x="314.5" y="214.2"/><use href="#hx" x="331.1" y="214.2"/><use href="#hx" x="342.1" y="214.2"/><use href="#hx" x="347.6" y="214.2"/><use href="#hx" x="322.8" y="217.7"/><use href="#hx" x="320.0" y="221.2"/><use href="#hx" x="364.2" y="221.2"/><use href="#hx" x="295.2" y="224.6"/></g>
<g fill="#a5c1dc" stroke="#a5c1dc"><use href="#hx" x="303.5" y="179.4"/><use href="#hx" x="218.0" y="182.9"/><use href="#hx" x="223.5" y="182.9"/><use href="#hx" x="240.1" y="182.9"/><use href="#hx" x="245.6" y="182.9"/><use href="#hx" x="251.1" y="182.9"/><use href="#hx" x="262.1" y="182.9"/><use href="#hx" x="267.6" y="182.9"/><use href="#hx" x="248.3" y="186.4"/><use href="#hx" x="259.4" y="186.4"/><use href="#hx" x="264.9" y="186.4"/><use href="#hx" x="270.4" y="186.4"/><use href="#hx" x="275.9" y="186.4"/><use href="#hx" x="292.5" y="186.4"/><use href="#hx" x="303.5" y="186.4"/><use href="#hx" x="262.1" y="189.9"/><use href="#hx" x="267.6" y="189.9"/><use href="#hx" x="273.2" y="189.9"/><use href="#hx" x="289.7" y="189.9"/><use href="#hx" x="295.2" y="189.9"/><use href="#hx" x="300.7" y="189.9"/><use href="#hx" x="339.3" y="189.9"/><use href="#hx" x="264.9" y="193.3"/><use href="#hx" x="270.4" y="193.3"/><use href="#hx" x="275.9" y="193.3"/><use href="#hx" x="292.5" y="193.3"/><use href="#hx" x="303.5" y="193.3"/><use href="#hx" x="273.2" y="196.8"/><use href="#hx" x="278.7" y="196.8"/><use href="#hx" x="284.2" y="196.8"/><use href="#hx" x="295.2" y="196.8"/><use href="#hx" x="306.3" y="196.8"/><use href="#hx" x="270.4" y="200.3"/><use href="#hx" x="275.9" y="200.3"/><use href="#hx" x="286.9" y="200.3"/><use href="#hx" x="292.5" y="200.3"/><use href="#hx" x="298.0" y="200.3"/><use href="#hx" x="309.0" y="200.3"/><use href="#hx" x="278.7" y="203.8"/><use href="#hx" x="295.2" y="203.8"/><use href="#hx" x="300.7" y="203.8"/><use href="#hx" x="311.8" y="203.8"/><use href="#hx" x="270.4" y="207.2"/><use href="#hx" x="281.4" y="207.2"/><use href="#hx" x="292.5" y="207.2"/><use href="#hx" x="298.0" y="207.2"/><use href="#hx" x="303.5" y="207.2"/><use href="#hx" x="309.0" y="207.2"/><use href="#hx" x="273.2" y="210.7"/><use href="#hx" x="284.2" y="210.7"/><use href="#hx" x="289.7" y="210.7"/><use href="#hx" x="295.2" y="210.7"/><use href="#hx" x="300.7" y="210.7"/><use href="#hx" x="306.3" y="210.7"/><use href="#hx" x="311.8" y="210.7"/><use href="#hx" x="317.3" y="210.7"/><use href="#hx" x="322.8" y="210.7"/><use href="#hx" x="259.4" y="214.2"/><use href="#hx" x="270.4" y="214.2"/><use href="#hx" x="275.9" y="214.2"/><use href="#hx" x="286.9" y="214.2"/><use href="#hx" x="292.5" y="214.2"/><use href="#hx" x="309.0" y="214.2"/><use href="#hx" x="267.6" y="217.7"/><use href="#hx" x="273.2" y="217.7"/><use href="#hx" x="278.7" y="217.7"/><use href="#hx" x="289.7" y="217.7"/><use href="#hx" x="300.7" y="217.7"/><use href="#hx" x="306.3" y="217.7"/><use href="#hx" x="248.3" y="221.2"/><use href="#hx" x="253.9" y="221.2"/><use href="#hx" x="264.9" y="221.2"/><use href="#hx" x="270.4" y="221.2"/><use href="#hx" x="275.9" y="221.2"/><use href="#hx" x="281.4" y="221.2"/><use href="#hx" x="234.6" y="224.6"/><use href="#hx" x="240.1" y="224.6"/><use href="#hx" x="256.6" y="224.6"/><use href="#hx" x="262.1" y="224.6"/><use href="#hx" x="273.2" y="224.6"/><use href="#hx" x="300.7" y="224.6"/><use href="#hx" x="306.3" y="224.6"/><use href="#hx" x="333.8" y="224.6"/><use href="#hx" x="339.3" y="224.6"/><use href="#hx" x="226.3" y="228.1"/><use href="#hx" x="231.8" y="228.1"/><use href="#hx" x="237.3" y="228.1"/><use href="#hx" x="248.3" y="228.1"/><use href="#hx" x="253.9" y="228.1"/><use href="#hx" x="264.9" y="228.1"/><use href="#hx" x="270.4" y="228.1"/><use href="#hx" x="303.5" y="228.1"/><use href="#hx" x="309.0" y="228.1"/><use href="#hx" x="347.6" y="228.1"/><use href="#hx" x="229.0" y="231.6"/><use href="#hx" x="234.6" y="231.6"/><use href="#hx" x="240.1" y="231.6"/><use href="#hx" x="245.6" y="231.6"/><use href="#hx" x="256.6" y="231.6"/><use href="#hx" x="262.1" y="231.6"/><use href="#hx" x="273.2" y="231.6"/><use href="#hx" x="220.8" y="235.1"/><use href="#hx" x="231.8" y="235.1"/><use href="#hx" x="237.3" y="235.1"/><use href="#hx" x="248.3" y="235.1"/><use href="#hx" x="253.9" y="235.1"/><use href="#hx" x="212.5" y="238.5"/><use href="#hx" x="223.5" y="238.5"/><use href="#hx" x="234.6" y="238.5"/><use href="#hx" x="240.1" y="238.5"/><use href="#hx" x="262.1" y="238.5"/><use href="#hx" x="350.4" y="238.5"/><use href="#hx" x="204.2" y="242.0"/><use href="#hx" x="215.3" y="242.0"/><use href="#hx" x="226.3" y="242.0"/><use href="#hx" x="207.0" y="245.5"/><use href="#hx" x="223.5" y="245.5"/><use href="#hx" x="245.6" y="245.5"/></g>
<g fill="#97add2" stroke="#97add2"><use href="#hx" x="207.0" y="182.9"/><use href="#hx" x="212.5" y="182.9"/><use href="#hx" x="256.6" y="182.9"/><use href="#hx" x="242.8" y="186.4"/><use href="#hx" x="253.9" y="186.4"/><use href="#hx" x="251.1" y="189.9"/><use href="#hx" x="256.6" y="189.9"/><use href="#hx" x="253.9" y="193.3"/><use href="#hx" x="259.4" y="193.3"/><use href="#hx" x="256.6" y="196.8"/><use href="#hx" x="267.6" y="196.8"/><use href="#hx" x="289.7" y="196.8"/><use href="#hx" x="259.4" y="200.3"/><use href="#hx" x="303.5" y="200.3"/><use href="#hx" x="267.6" y="203.8"/><use href="#hx" x="273.2" y="203.8"/><use href="#hx" x="259.4" y="207.2"/><use href="#hx" x="264.9" y="207.2"/><use href="#hx" x="256.6" y="210.7"/><use href="#hx" x="262.1" y="210.7"/><use href="#hx" x="267.6" y="210.7"/><use href="#hx" x="248.3" y="214.2"/><use href="#hx" x="253.9" y="214.2"/><use href="#hx" x="264.9" y="214.2"/><use href="#hx" x="245.6" y="217.7"/><use href="#hx" x="251.1" y="217.7"/><use href="#hx" x="256.6" y="217.7"/><use href="#hx" x="231.8" y="221.2"/><use href="#hx" x="237.3" y="221.2"/><use href="#hx" x="242.8" y="221.2"/><use href="#hx" x="229.0" y="224.6"/><use href="#hx" x="245.6" y="224.6"/><use href="#hx" x="284.2" y="224.6"/><use href="#hx" x="289.7" y="224.6"/><use href="#hx" x="218.0" y="231.6"/><use href="#hx" x="223.5" y="231.6"/><use href="#hx" x="209.7" y="235.1"/><use href="#hx" x="215.3" y="235.1"/></g>
<g fill="#edf8fb" stroke="#edf8fb"><use href="#hx" x="278.7" y="182.9"/><use href="#hx" x="281.4" y="186.4"/><use href="#hx" x="286.9" y="186.4"/><use href="#hx" x="278.7" y="189.9"/><use href="#hx" x="311.8" y="189.9"/><use href="#hx" x="322.8" y="189.9"/><use href="#hx" x="328.3" y="189.9"/><use href="#hx" x="333.8" y="189.9"/><use href="#hx" x="355.9" y="189.9"/><use href="#hx" x="281.4" y="193.3"/><use href="#hx" x="298.0" y="193.3"/><use href="#hx" x="309.0" y="193.3"/><use href="#hx" x="314.5" y="193.3"/><use href="#hx" x="342.1" y="193.3"/><use href="#hx" x="347.6" y="193.3"/><use href="#hx" x="369.7" y="193.3"/><use href="#hx" x="300.7" y="196.8"/><use href="#hx" x="311.8" y="196.8"/><use href="#hx" x="328.3" y="196.8"/><use href="#hx" x="339.3" y="196.8"/><use href="#hx" x="344.9" y="196.8"/><use href="#hx" x="361.4" y="196.8"/><use href="#hx" x="366.9" y="196.8"/><use href="#hx" x="264.9" y="200.3"/><use href="#hx" x="281.4" y="200.3"/><use href="#hx" x="314.5" y="200.3"/><use href="#hx" x="331.1" y="200.3"/><use href="#hx" x="336.6" y="200.3"/><use href="#hx" x="353.1" y="200.3"/><use href="#hx" x="358.6" y="200.3"/><use href="#hx" x="284.2" y="203.8"/><use href="#hx" x="306.3" y="203.8"/><use href="#hx" x="328.3" y="203.8"/><use href="#hx" x="339.3" y="203.8"/><use href="#hx" x="350.4" y="203.8"/><use href="#hx" x="366.9" y="203.8"/><use href="#hx" x="372.4" y="203.8"/><use href="#hx" x="275.9" y="207.2"/><use href="#hx" x="320.0" y="207.2"/><use href="#hx" x="336.6" y="207.2"/><use href="#hx" x="342.1" y="207.2"/><use href="#hx" x="347.6" y="207.2"/><use href="#hx" x="358.6" y="207.2"/><use href="#hx" x="328.3" y="210.7"/><use href="#hx" x="350.4" y="210.7"/><use href="#hx" x="281.4" y="214.2"/><use href="#hx" x="298.0" y="214.2"/><use href="#hx" x="303.5" y="214.2"/><use href="#hx" x="320.0" y="214.2"/><use href="#hx" x="325.6" y="214.2"/><use href="#hx" x="336.6" y="214.2"/><use href="#hx" x="353.1" y="214.2"/><use href="#hx" x="364.2" y="214.2"/><use href="#hx" x="240.1" y="217.7"/><use href="#hx" x="262.1" y="217.7"/><use href="#hx" x="284.2" y="217.7"/><use href="#hx" x="295.2" y="217.7"/><use href="#hx" x="311.8" y="217.7"/><use href="#hx" x="317.3" y="217.7"/><use href="#hx" x="328.3" y="217.7"/><use href="#hx" x="333.8" y="217.7"/><use href="#hx" x="339.3" y="217.7"/><use href="#hx" x="344.9" y="217.7"/><use href="#hx" x="355.9" y="217.7"/><use href="#hx" x="361.4" y="217.7"/><use href="#hx" x="259.4" y="221.2"/><use href="#hx" x="286.9" y="221.2"/><use href="#hx" x="292.5" y="221.2"/><use href="#hx" x="298.0" y="221.2"/><use href="#hx" x="303.5" y="221.2"/><use href="#hx" x="309.0" y="221.2"/><use href="#hx" x="325.6" y="221.2"/><use href="#hx" x="336.6" y="221.2"/><use href="#hx" x="347.6" y="221.2"/><use href="#hx" x="369.7" y="221.2"/><use href="#hx" x="251.1" y="224.6"/><use href="#hx" x="267.6" y="224.6"/><use href="#hx" x="278.7" y="224.6"/><use href="#hx" x="220.8" y="228.1"/><use href="#hx" x="242.8" y="228.1"/><use href="#hx" x="259.4" y="228.1"/><use href="#hx" x="275.9" y="228.1"/><use href="#hx" x="281.4" y="228.1"/><use href="#hx" x="286.9" y="228.1"/><use href="#hx" x="251.1" y="231.6"/><use href="#hx" x="267.6" y="231.6"/><use href="#hx" x="278.7" y="231.6"/><use href="#hx" x="300.7" y="231.6"/><use href="#hx" x="328.3" y="231.6"/><use href="#hx" x="226.3" y="235.1"/><use href="#hx" x="242.8" y="235.1"/><use href="#hx" x="259.4" y="235.1"/><use href="#hx" x="264.9" y="235.1"/><use href="#hx" x="270.4" y="235.1"/><use href="#hx" x="286.9" y="235.1"/><use href="#hx" x="292.5" y="235.1"/><use href="#hx" x="314.5" y="235.1"/><use href="#hx" x="218.0" y="238.5"/><use href="#hx" x="229.0" y="238.5"/><use href="#hx" x="245.6" y="238.5"/><use href="#hx" x="251.1" y="238.5"/><use href="#hx" x="256.6" y="238.5"/><use href="#hx" x="284.2" y="238.5"/><use href="#hx" x="306.3" y="238.5"/><use href="#hx" x="209.7" y="242.0"/><use href="#hx" x="220.8" y="242.0"/><use href="#hx" x="231.8" y="242.0"/><use href="#hx" x="237.3" y="242.0"/><use href="#hx" x="242.8" y="242.0"/><use href="#hx" x="248.3" y="242.0"/><use href="#hx" x="270.4" y="242.0"/><use href="#hx" x="275.9" y="242.0"/><use href="#hx" x="212.5" y="245.5"/><use href="#hx" x="218.0" y="245.5"/><use href="#hx" x="229.0" y="245.5"/><use href="#hx" x="240.1" y="245.5"/><use href="#hx" x="267.6" y="245.5"/></g>
<g fill="#894aa1" stroke="#894aa1"><use href="#hx" x="204.2" y="186.4"/><use href="#hx" x="209.7" y="186.4"/><use href="#hx" x="207.0" y="189.9"/><use href="#hx" x="212.5" y="189.9"/><use href="#hx" x="218.0" y="189.9"/><use href="#hx" x="215.3" y="193.3"/><use href="#hx" x="220.8" y="193.3"/><use href="#hx" x="223.5" y="196.8"/><use href="#hx" x="229.0" y="196.8"/><use href="#hx" x="220.8" y="200.3"/><use href="#hx" x="226.3" y="200.3"/><use href="#hx" x="223.5" y="203.8"/><use href="#hx" x="229.0" y="203.8"/><use href="#hx" x="215.3" y="207.2"/><use href="#hx" x="220.8" y="207.2"/><use href="#hx" x="226.3" y="207.2"/><use href="#hx" x="212.5" y="210.7"/><use href="#hx" x="218.0" y="210.7"/><use href="#hx" x="223.5" y="210.7"/><use href="#hx" x="204.2" y="214.2"/><use href="#hx" x="209.7" y="214.2"/><use href="#hx" x="207.0" y="217.7"/></g>
<g fill="#8c63ad" stroke="#8c63ad"><use href="#hx" x="215.3" y="186.4"/><use href="#hx" x="220.8" y="186.4"/><use href="#hx" x="223.5" y="189.9"/><use href="#hx" x="226.3" y="193.3"/><use href="#hx" x="231.8" y="193.3"/><use href="#hx" x="234.6" y="196.8"/><use href="#hx" x="231.8" y="200.3"/><use href="#hx" x="237.3" y="200.3"/><use href="#hx" x="234.6" y="203.8"/><use href="#hx" x="240.1" y="203.8"/><use href="#hx" x="231.8" y="207.2"/><use href="#hx" x="237.3" y="207.2"/><use href="#hx" x="229.0" y="210.7"/><use href="#hx" x="215.3" y="214.2"/><use href="#hx" x="220.8" y="214.2"/><use href="#hx" x="212.5" y="217.7"/><use href="#hx" x="218.0" y="217.7"/><use href="#hx" x="204.2" y="221.2"/><use href="#hx" x="209.7" y="221.2"/><use href="#hx" x="207.0" y="224.6"/><use href="#hx" x="204.2" y="228.1"/></g>
<g fill="#8d7cb9" stroke="#8d7cb9"><use href="#hx" x="226.3" y="186.4"/><use href="#hx" x="229.0" y="189.9"/><use href="#hx" x="234.6" y="189.9"/><use href="#hx" x="237.3" y="193.3"/><use href="#hx" x="240.1" y="196.8"/><use href="#hx" x="245.6" y="196.8"/><use href="#hx" x="242.8" y="200.3"/><use href="#hx" x="248.3" y="200.3"/><use href="#hx" x="245.6" y="203.8"/><use href="#hx" x="251.1" y="203.8"/><use href="#hx" x="242.8" y="207.2"/><use href="#hx" x="248.3" y="207.2"/><use href="#hx" x="234.6" y="210.7"/><use href="#hx" x="240.1" y="210.7"/><use href="#hx" x="226.3" y="214.2"/><use href="#hx" x="231.8" y="214.2"/><use href="#hx" x="223.5" y="217.7"/><use href="#hx" x="229.0" y="217.7"/><use href="#hx" x="215.3" y="221.2"/><use href="#hx" x="220.8" y="221.2"/><use href="#hx" x="212.5" y="224.6"/><use href="#hx" x="218.0" y="224.6"/><use href="#hx" x="209.7" y="228.1"/><use href="#hx" x="207.0" y="231.6"/><use href="#hx" x="204.2" y="235.1"/></g>
<g fill="#8c96c6" stroke="#8c96c6"><use href="#hx" x="231.8" y="186.4"/><use href="#hx" x="237.3" y="186.4"/><use href="#hx" x="240.1" y="189.9"/><use href="#hx" x="245.6" y="189.9"/><use href="#hx" x="242.8" y="193.3"/><use href="#hx" x="248.3" y="193.3"/><use href="#hx" x="251.1" y="196.8"/><use href="#hx" x="253.9" y="200.3"/><use href="#hx" x="256.6" y="203.8"/><use href="#hx" x="262.1" y="203.8"/><use href="#hx" x="289.7" y="203.8"/><use href="#hx" x="253.9" y="207.2"/><use href="#hx" x="245.6" y="210.7"/><use href="#hx" x="251.1" y="210.7"/><use href="#hx" x="237.3" y="214.2"/><use href="#hx" x="242.8" y="214.2"/><use href="#hx" x="234.6" y="217.7"/><use href="#hx" x="226.3" y="221.2"/><use href="#hx" x="223.5" y="224.6"/><use href="#hx" x="215.3" y="228.1"/><use href="#hx" x="212.5" y="231.6"/><use href="#hx" x="207.0" y="238.5"/></g>
<g fill="#7e2d89" stroke="#7e2d89"><use href="#hx" x="204.2" y="193.3"/><use href="#hx" x="209.7" y="193.3"/><use href="#hx" x="207.0" y="196.8"/><use href="#hx" x="212.5" y="196.8"/><use href="#hx" x="218.0" y="196.8"/><use href="#hx" x="204.2" y="200.3"/><use href="#hx" x="209.7" y="200.3"/><use href="#hx" x="215.3" y="200.3"/><use href="#hx" x="207.0" y="203.8"/><use href="#hx" x="212.5" y="203.8"/><use href="#hx" x="218.0" y="203.8"/><use href="#hx" x="204.2" y="207.2"/><use href="#hx" x="209.7" y="207.2"/><use href="#hx" x="207.0" y="210.7"/></g>
<g fill="#d1e2ee" stroke="#d1e2ee"><use href="#hx" x="262.1" y="196.8"/><use href="#hx" x="278.7" y="210.7"/></g></g>
</g>
<rect x="206.20" y="161.45" width="165.45" height="120.40" fill="none" stroke="#333" stroke-opacity="0.5" stroke-width="0.90"/>
<rect x="206.20" y="147.20" width="165.45" height="14.25" fill="#d9d9d9" stroke="#333" stroke-opacity="0.5" stroke-width="0.90"/>
<line x1="205.75" y1="161.45" x2="372.10" y2="161.45" stroke="#333" stroke-width="0.8"/>
<text x="288.92" y="157.02" font-size="7.5" stroke-width="0" fill="#222" text-anchor="middle">Shape similarity</text>
<text x="215.80" y="275.35" font-size="9.2" fill="#000" stroke="#000" stroke-width="0.15">Spearman&#39;s rho = -0.07</text>
<line x1="237.71" y1="281.85" x2="237.71" y2="284.05" stroke="#333" stroke-width="0.85"/>
<text x="237.71" y="291.85" font-size="7.1" fill="#4d4d4d" stroke="#4d4d4d" stroke-width="0.15" text-anchor="middle">50</text>
<line x1="271.19" y1="281.85" x2="271.19" y2="284.05" stroke="#333" stroke-width="0.85"/>
<text x="271.19" y="291.85" font-size="7.1" fill="#4d4d4d" stroke="#4d4d4d" stroke-width="0.15" text-anchor="middle">100</text>
<line x1="304.68" y1="281.85" x2="304.68" y2="284.05" stroke="#333" stroke-width="0.85"/>
<text x="304.68" y="291.85" font-size="7.1" fill="#4d4d4d" stroke="#4d4d4d" stroke-width="0.15" text-anchor="middle">150</text>
<line x1="338.16" y1="281.85" x2="338.16" y2="284.05" stroke="#333" stroke-width="0.85"/>
<text x="338.16" y="291.85" font-size="7.1" fill="#4d4d4d" stroke="#4d4d4d" stroke-width="0.15" text-anchor="middle">200</text>
<line x1="371.65" y1="281.85" x2="371.65" y2="284.05" stroke="#333" stroke-width="0.85"/>
<text x="371.65" y="291.85" font-size="7.1" fill="#4d4d4d" stroke="#4d4d4d" stroke-width="0.15" text-anchor="middle">250</text>
<defs><clipPath id="cp12"><rect x="376.50" y="161.45" width="165.45" height="120.40"/></clipPath></defs>
<g clip-path="url(#cp12)"><line x1="391.27" y1="161.45" x2="391.27" y2="281.85" stroke="#ebebeb" stroke-width="0.45"/><line x1="424.75" y1="161.45" x2="424.75" y2="281.85" stroke="#ebebeb" stroke-width="0.45"/><line x1="458.24" y1="161.45" x2="458.24" y2="281.85" stroke="#ebebeb" stroke-width="0.45"/><line x1="491.72" y1="161.45" x2="491.72" y2="281.85" stroke="#ebebeb" stroke-width="0.45"/><line x1="525.21" y1="161.45" x2="525.21" y2="281.85" stroke="#ebebeb" stroke-width="0.45"/><line x1="376.50" y1="266.80" x2="541.95" y2="266.80" stroke="#ebebeb" stroke-width="0.45"/><line x1="376.50" y1="236.70" x2="541.95" y2="236.70" stroke="#ebebeb" stroke-width="0.45"/><line x1="376.50" y1="206.60" x2="541.95" y2="206.60" stroke="#ebebeb" stroke-width="0.45"/><line x1="376.50" y1="176.50" x2="541.95" y2="176.50" stroke="#ebebeb" stroke-width="0.45"/><line x1="408.01" y1="161.45" x2="408.01" y2="281.85" stroke="#ebebeb" stroke-width="0.9"/><line x1="441.49" y1="161.45" x2="441.49" y2="281.85" stroke="#ebebeb" stroke-width="0.9"/><line x1="474.98" y1="161.45" x2="474.98" y2="281.85" stroke="#ebebeb" stroke-width="0.9"/><line x1="508.46" y1="161.45" x2="508.46" y2="281.85" stroke="#ebebeb" stroke-width="0.9"/><line x1="376.50" y1="251.75" x2="541.95" y2="251.75" stroke="#ebebeb" stroke-width="0.9"/><line x1="376.50" y1="221.65" x2="541.95" y2="221.65" stroke="#ebebeb" stroke-width="0.9"/><line x1="376.50" y1="191.55" x2="541.95" y2="191.55" stroke="#ebebeb" stroke-width="0.9"/>
<g filter="url(#bl)"><g fill="#7e2d89" stroke="#7e2d89"><use href="#hx" x="377.3" y="160.2"/><use href="#hx" x="382.8" y="160.2"/><use href="#hx" x="388.3" y="160.2"/><use href="#hx" x="393.8" y="160.2"/><use href="#hx" x="399.3" y="160.2"/><use href="#hx" x="380.0" y="163.7"/><use href="#hx" x="385.6" y="163.7"/><use href="#hx" x="391.1" y="163.7"/><use href="#hx" x="396.6" y="163.7"/><use href="#hx" x="402.1" y="163.7"/><use href="#hx" x="377.3" y="167.2"/><use href="#hx" x="382.8" y="167.2"/><use href="#hx" x="388.3" y="167.2"/><use href="#hx" x="393.8" y="167.2"/><use href="#hx" x="374.5" y="170.6"/><use href="#hx" x="380.0" y="170.6"/><use href="#hx" x="385.6" y="170.6"/><use href="#hx" x="377.3" y="174.1"/><use href="#hx" x="382.8" y="174.1"/><use href="#hx" x="374.5" y="177.6"/><use href="#hx" x="380.0" y="177.6"/><use href="#hx" x="377.3" y="181.1"/></g>
<g fill="#894aa1" stroke="#894aa1"><use href="#hx" x="404.9" y="160.2"/><use href="#hx" x="410.4" y="160.2"/><use href="#hx" x="415.9" y="160.2"/><use href="#hx" x="421.4" y="160.2"/><use href="#hx" x="426.9" y="160.2"/><use href="#hx" x="432.4" y="160.2"/><use href="#hx" x="437.9" y="160.2"/><use href="#hx" x="443.5" y="160.2"/><use href="#hx" x="407.6" y="163.7"/><use href="#hx" x="413.1" y="163.7"/><use href="#hx" x="418.6" y="163.7"/><use href="#hx" x="424.2" y="163.7"/><use href="#hx" x="429.7" y="163.7"/><use href="#hx" x="399.3" y="167.2"/><use href="#hx" x="404.9" y="167.2"/><use href="#hx" x="410.4" y="167.2"/><use href="#hx" x="415.9" y="167.2"/><use href="#hx" x="391.1" y="170.6"/><use href="#hx" x="396.6" y="170.6"/><use href="#hx" x="388.3" y="174.1"/><use href="#hx" x="393.8" y="174.1"/><use href="#hx" x="385.6" y="177.6"/><use href="#hx" x="382.8" y="181.1"/><use href="#hx" x="388.3" y="181.1"/><use href="#hx" x="374.5" y="184.5"/><use href="#hx" x="380.0" y="184.5"/></g>
<g fill="#8c63ad" stroke="#8c63ad"><use href="#hx" x="449.0" y="160.2"/><use href="#hx" x="454.5" y="160.2"/><use href="#hx" x="460.0" y="160.2"/><use href="#hx" x="465.5" y="160.2"/><use href="#hx" x="471.0" y="160.2"/><use href="#hx" x="476.6" y="160.2"/><use href="#hx" x="482.1" y="160.2"/><use href="#hx" x="487.6" y="160.2"/><use href="#hx" x="435.2" y="163.7"/><use href="#hx" x="440.7" y="163.7"/><use href="#hx" x="446.2" y="163.7"/><use href="#hx" x="451.7" y="163.7"/><use href="#hx" x="421.4" y="167.2"/><use href="#hx" x="426.9" y="167.2"/><use href="#hx" x="402.1" y="170.6"/><use href="#hx" x="407.6" y="170.6"/><use href="#hx" x="399.3" y="174.1"/><use href="#hx" x="391.1" y="177.6"/><use href="#hx" x="393.8" y="181.1"/><use href="#hx" x="385.6" y="184.5"/><use href="#hx" x="377.3" y="188.0"/><use href="#hx" x="382.8" y="188.0"/><use href="#hx" x="374.5" y="191.5"/></g>
<g fill="#8d7cb9" stroke="#8d7cb9"><use href="#hx" x="493.1" y="160.2"/><use href="#hx" x="498.6" y="160.2"/><use href="#hx" x="504.1" y="160.2"/><use href="#hx" x="509.6" y="160.2"/><use href="#hx" x="515.2" y="160.2"/><use href="#hx" x="520.7" y="160.2"/><use href="#hx" x="526.2" y="160.2"/><use href="#hx" x="457.2" y="163.7"/><use href="#hx" x="432.4" y="167.2"/><use href="#hx" x="437.9" y="167.2"/><use href="#hx" x="413.1" y="170.6"/><use href="#hx" x="404.9" y="174.1"/><use href="#hx" x="396.6" y="177.6"/><use href="#hx" x="391.1" y="184.5"/><use href="#hx" x="388.3" y="188.0"/><use href="#hx" x="380.0" y="191.5"/><use href="#hx" x="377.3" y="195.0"/><use href="#hx" x="374.5" y="198.4"/><use href="#hx" x="377.3" y="201.9"/></g>
<g fill="#8c96c6" stroke="#8c96c6"><use href="#hx" x="531.7" y="160.2"/><use href="#hx" x="537.2" y="160.2"/><use href="#hx" x="542.7" y="160.2"/><use href="#hx" x="462.8" y="163.7"/><use href="#hx" x="468.3" y="163.7"/><use href="#hx" x="473.8" y="163.7"/><use href="#hx" x="490.3" y="163.7"/><use href="#hx" x="506.9" y="163.7"/><use href="#hx" x="512.4" y="163.7"/><use href="#hx" x="517.9" y="163.7"/><use href="#hx" x="523.4" y="163.7"/><use href="#hx" x="528.9" y="163.7"/><use href="#hx" x="534.5" y="163.7"/><use href="#hx" x="443.5" y="167.2"/><use href="#hx" x="449.0" y="167.2"/><use href="#hx" x="454.5" y="167.2"/><use href="#hx" x="418.6" y="170.6"/><use href="#hx" x="410.4" y="174.1"/><use href="#hx" x="402.1" y="177.6"/><use href="#hx" x="399.3" y="181.1"/><use href="#hx" x="393.8" y="188.0"/><use href="#hx" x="380.0" y="198.4"/><use href="#hx" x="374.5" y="205.4"/><use href="#hx" x="377.3" y="208.9"/><use href="#hx" x="377.3" y="215.8"/><use href="#hx" x="374.5" y="219.3"/><use href="#hx" x="374.5" y="226.2"/><use href="#hx" x="377.3" y="229.7"/><use href="#hx" x="374.5" y="233.2"/><use href="#hx" x="377.3" y="236.7"/><use href="#hx" x="374.5" y="240.1"/><use href="#hx" x="377.3" y="243.6"/><use href="#hx" x="374.5" y="247.1"/><use href="#hx" x="377.3" y="250.6"/><use href="#hx" x="377.3" y="257.5"/><use href="#hx" x="374.5" y="261.0"/><use href="#hx" x="374.5" y="267.9"/><use href="#hx" x="377.3" y="271.4"/><use href="#hx" x="374.5" y="274.9"/><use href="#hx" x="377.3" y="278.4"/><use href="#hx" x="374.5" y="281.9"/></g>
<g fill="#6e016b" stroke="#6e016b"><use href="#hx" x="374.5" y="163.7"/></g>
<g fill="#97add2" stroke="#97add2"><use href="#hx" x="479.3" y="163.7"/><use href="#hx" x="484.8" y="163.7"/><use href="#hx" x="495.9" y="163.7"/><use href="#hx" x="501.4" y="163.7"/><use href="#hx" x="540.0" y="163.7"/><use href="#hx" x="460.0" y="167.2"/><use href="#hx" x="465.5" y="167.2"/><use href="#hx" x="471.0" y="167.2"/><use href="#hx" x="487.6" y="167.2"/><use href="#hx" x="493.1" y="167.2"/><use href="#hx" x="498.6" y="167.2"/><use href="#hx" x="504.1" y="167.2"/><use href="#hx" x="509.6" y="167.2"/><use href="#hx" x="515.2" y="167.2"/><use href="#hx" x="520.7" y="167.2"/><use href="#hx" x="526.2" y="167.2"/><use href="#hx" x="531.7" y="167.2"/><use href="#hx" x="424.2" y="170.6"/><use href="#hx" x="415.9" y="174.1"/><use href="#hx" x="407.6" y="177.6"/><use href="#hx" x="404.9" y="181.1"/><use href="#hx" x="396.6" y="184.5"/><use href="#hx" x="399.3" y="188.0"/><use href="#hx" x="385.6" y="191.5"/><use href="#hx" x="388.3" y="195.0"/><use href="#hx" x="385.6" y="198.4"/><use href="#hx" x="382.8" y="201.9"/><use href="#hx" x="380.0" y="205.4"/><use href="#hx" x="382.8" y="208.9"/><use href="#hx" x="380.0" y="212.3"/><use href="#hx" x="382.8" y="215.8"/><use href="#hx" x="380.0" y="219.3"/><use href="#hx" x="377.3" y="222.8"/><use href="#hx" x="380.0" y="226.2"/><use href="#hx" x="382.8" y="229.7"/><use href="#hx" x="380.0" y="233.2"/><use href="#hx" x="391.1" y="233.2"/><use href="#hx" x="388.3" y="236.7"/><use href="#hx" x="380.0" y="240.1"/><use href="#hx" x="382.8" y="243.6"/><use href="#hx" x="380.0" y="247.1"/><use href="#hx" x="391.1" y="247.1"/><use href="#hx" x="382.8" y="250.6"/><use href="#hx" x="374.5" y="254.0"/><use href="#hx" x="380.0" y="254.0"/><use href="#hx" x="380.0" y="261.0"/><use href="#hx" x="382.8" y="264.5"/><use href="#hx" x="380.0" y="267.9"/><use href="#hx" x="382.8" y="271.4"/><use href="#hx" x="380.0" y="274.9"/><use href="#hx" x="382.8" y="278.4"/><use href="#hx" x="380.0" y="281.9"/></g>
<g fill="#a5c1dc" stroke="#a5c1dc"><use href="#hx" x="476.6" y="167.2"/><use href="#hx" x="429.7" y="170.6"/><use href="#hx" x="435.2" y="170.6"/><use href="#hx" x="446.2" y="170.6"/><use href="#hx" x="451.7" y="170.6"/><use href="#hx" x="457.2" y="170.6"/><use href="#hx" x="468.3" y="170.6"/><use href="#hx" x="473.8" y="170.6"/><use href="#hx" x="495.9" y="170.6"/><use href="#hx" x="421.4" y="174.1"/><use href="#hx" x="437.9" y="174.1"/><use href="#hx" x="454.5" y="174.1"/><use href="#hx" x="487.6" y="174.1"/><use href="#hx" x="520.7" y="174.1"/><use href="#hx" x="418.6" y="177.6"/><use href="#hx" x="415.9" y="181.1"/><use href="#hx" x="421.4" y="181.1"/><use href="#hx" x="402.1" y="184.5"/><use href="#hx" x="413.1" y="184.5"/><use href="#hx" x="418.6" y="184.5"/><use href="#hx" x="410.4" y="188.0"/><use href="#hx" x="415.9" y="188.0"/><use href="#hx" x="396.6" y="191.5"/><use href="#hx" x="402.1" y="191.5"/><use href="#hx" x="407.6" y="191.5"/><use href="#hx" x="457.2" y="191.5"/><use href="#hx" x="393.8" y="195.0"/><use href="#hx" x="399.3" y="195.0"/><use href="#hx" x="404.9" y="195.0"/><use href="#hx" x="410.4" y="195.0"/><use href="#hx" x="454.5" y="195.0"/><use href="#hx" x="391.1" y="198.4"/><use href="#hx" x="396.6" y="198.4"/><use href="#hx" x="402.1" y="198.4"/><use href="#hx" x="393.8" y="201.9"/><use href="#hx" x="399.3" y="201.9"/><use href="#hx" x="404.9" y="201.9"/><use href="#hx" x="460.0" y="201.9"/><use href="#hx" x="520.7" y="201.9"/><use href="#hx" x="385.6" y="205.4"/><use href="#hx" x="396.6" y="205.4"/><use href="#hx" x="402.1" y="205.4"/><use href="#hx" x="388.3" y="208.9"/><use href="#hx" x="393.8" y="208.9"/><use href="#hx" x="399.3" y="208.9"/><use href="#hx" x="432.4" y="208.9"/><use href="#hx" x="385.6" y="212.3"/><use href="#hx" x="391.1" y="212.3"/><use href="#hx" x="396.6" y="212.3"/><use href="#hx" x="429.7" y="212.3"/><use href="#hx" x="440.7" y="212.3"/><use href="#hx" x="446.2" y="212.3"/><use href="#hx" x="388.3" y="215.8"/><use href="#hx" x="393.8" y="215.8"/><use href="#hx" x="404.9" y="215.8"/><use href="#hx" x="391.1" y="219.3"/><use href="#hx" x="396.6" y="219.3"/><use href="#hx" x="402.1" y="219.3"/><use href="#hx" x="407.6" y="219.3"/><use href="#hx" x="435.2" y="219.3"/><use href="#hx" x="440.7" y="219.3"/><use href="#hx" x="388.3" y="222.8"/><use href="#hx" x="393.8" y="222.8"/><use href="#hx" x="399.3" y="222.8"/><use href="#hx" x="426.9" y="222.8"/><use href="#hx" x="385.6" y="226.2"/><use href="#hx" x="391.1" y="226.2"/><use href="#hx" x="396.6" y="226.2"/><use href="#hx" x="402.1" y="226.2"/><use href="#hx" x="413.1" y="226.2"/><use href="#hx" x="388.3" y="229.7"/><use href="#hx" x="393.8" y="229.7"/><use href="#hx" x="399.3" y="229.7"/><use href="#hx" x="404.9" y="229.7"/><use href="#hx" x="426.9" y="229.7"/><use href="#hx" x="385.6" y="233.2"/><use href="#hx" x="396.6" y="233.2"/><use href="#hx" x="429.7" y="233.2"/><use href="#hx" x="382.8" y="236.7"/><use href="#hx" x="393.8" y="236.7"/><use href="#hx" x="399.3" y="236.7"/><use href="#hx" x="385.6" y="240.1"/><use href="#hx" x="396.6" y="240.1"/><use href="#hx" x="402.1" y="240.1"/><use href="#hx" x="388.3" y="243.6"/><use href="#hx" x="393.8" y="243.6"/><use href="#hx" x="399.3" y="243.6"/><use href="#hx" x="404.9" y="243.6"/><use href="#hx" x="410.4" y="243.6"/><use href="#hx" x="385.6" y="247.1"/><use href="#hx" x="396.6" y="247.1"/><use href="#hx" x="402.1" y="247.1"/><use href="#hx" x="407.6" y="247.1"/><use href="#hx" x="413.1" y="247.1"/><use href="#hx" x="388.3" y="250.6"/><use href="#hx" x="393.8" y="250.6"/><use href="#hx" x="399.3" y="250.6"/><use href="#hx" x="404.9" y="250.6"/><use href="#hx" x="410.4" y="250.6"/><use href="#hx" x="415.9" y="250.6"/><use href="#hx" x="385.6" y="254.0"/><use href="#hx" x="396.6" y="254.0"/><use href="#hx" x="388.3" y="257.5"/><use href="#hx" x="393.8" y="257.5"/><use href="#hx" x="399.3" y="257.5"/><use href="#hx" x="385.6" y="261.0"/><use href="#hx" x="391.1" y="261.0"/><use href="#hx" x="388.3" y="264.5"/><use href="#hx" x="393.8" y="264.5"/><use href="#hx" x="385.6" y="267.9"/><use href="#hx" x="391.1" y="267.9"/><use href="#hx" x="388.3" y="271.4"/><use href="#hx" x="393.8" y="271.4"/><use href="#hx" x="385.6" y="274.9"/><use href="#hx" x="388.3" y="278.4"/><use href="#hx" x="393.8" y="278.4"/></g>
<g fill="#edf8fb" stroke="#edf8fb"><use href="#hx" x="482.1" y="167.2"/><use href="#hx" x="542.7" y="167.2"/><use href="#hx" x="440.7" y="170.6"/><use href="#hx" x="479.3" y="170.6"/><use href="#hx" x="484.8" y="170.6"/><use href="#hx" x="490.3" y="170.6"/><use href="#hx" x="501.4" y="170.6"/><use href="#hx" x="506.9" y="170.6"/><use href="#hx" x="512.4" y="170.6"/><use href="#hx" x="517.9" y="170.6"/><use href="#hx" x="523.4" y="170.6"/><use href="#hx" x="528.9" y="170.6"/><use href="#hx" x="534.5" y="170.6"/><use href="#hx" x="426.9" y="174.1"/><use href="#hx" x="460.0" y="174.1"/><use href="#hx" x="465.5" y="174.1"/><use href="#hx" x="471.0" y="174.1"/><use href="#hx" x="476.6" y="174.1"/><use href="#hx" x="493.1" y="174.1"/><use href="#hx" x="498.6" y="174.1"/><use href="#hx" x="504.1" y="174.1"/><use href="#hx" x="526.2" y="174.1"/><use href="#hx" x="413.1" y="177.6"/><use href="#hx" x="435.2" y="177.6"/><use href="#hx" x="440.7" y="177.6"/><use href="#hx" x="446.2" y="177.6"/><use href="#hx" x="468.3" y="177.6"/><use href="#hx" x="512.4" y="177.6"/><use href="#hx" x="410.4" y="181.1"/><use href="#hx" x="437.9" y="181.1"/><use href="#hx" x="454.5" y="181.1"/><use href="#hx" x="465.5" y="181.1"/><use href="#hx" x="482.1" y="181.1"/><use href="#hx" x="487.6" y="181.1"/><use href="#hx" x="504.1" y="181.1"/><use href="#hx" x="509.6" y="181.1"/><use href="#hx" x="531.7" y="181.1"/><use href="#hx" x="407.6" y="184.5"/><use href="#hx" x="424.2" y="184.5"/><use href="#hx" x="429.7" y="184.5"/><use href="#hx" x="446.2" y="184.5"/><use href="#hx" x="451.7" y="184.5"/><use href="#hx" x="468.3" y="184.5"/><use href="#hx" x="473.8" y="184.5"/><use href="#hx" x="495.9" y="184.5"/><use href="#hx" x="404.9" y="188.0"/><use href="#hx" x="421.4" y="188.0"/><use href="#hx" x="443.5" y="188.0"/><use href="#hx" x="465.5" y="188.0"/><use href="#hx" x="493.1" y="188.0"/><use href="#hx" x="391.1" y="191.5"/><use href="#hx" x="413.1" y="191.5"/><use href="#hx" x="429.7" y="191.5"/><use href="#hx" x="435.2" y="191.5"/><use href="#hx" x="451.7" y="191.5"/><use href="#hx" x="382.8" y="195.0"/><use href="#hx" x="421.4" y="195.0"/><use href="#hx" x="426.9" y="195.0"/><use href="#hx" x="449.0" y="195.0"/><use href="#hx" x="460.0" y="195.0"/><use href="#hx" x="476.6" y="195.0"/><use href="#hx" x="498.6" y="195.0"/><use href="#hx" x="520.7" y="195.0"/><use href="#hx" x="407.6" y="198.4"/><use href="#hx" x="413.1" y="198.4"/><use href="#hx" x="435.2" y="198.4"/><use href="#hx" x="440.7" y="198.4"/><use href="#hx" x="457.2" y="198.4"/><use href="#hx" x="462.8" y="198.4"/><use href="#hx" x="512.4" y="198.4"/><use href="#hx" x="388.3" y="201.9"/><use href="#hx" x="410.4" y="201.9"/><use href="#hx" x="432.4" y="201.9"/><use href="#hx" x="454.5" y="201.9"/><use href="#hx" x="391.1" y="205.4"/><use href="#hx" x="407.6" y="205.4"/><use href="#hx" x="418.6" y="205.4"/><use href="#hx" x="424.2" y="205.4"/><use href="#hx" x="440.7" y="205.4"/><use href="#hx" x="446.2" y="205.4"/><use href="#hx" x="468.3" y="205.4"/><use href="#hx" x="404.9" y="208.9"/><use href="#hx" x="415.9" y="208.9"/><use href="#hx" x="426.9" y="208.9"/><use href="#hx" x="437.9" y="208.9"/><use href="#hx" x="443.5" y="208.9"/><use href="#hx" x="374.5" y="212.3"/><use href="#hx" x="402.1" y="212.3"/><use href="#hx" x="407.6" y="212.3"/><use href="#hx" x="424.2" y="212.3"/><use href="#hx" x="435.2" y="212.3"/><use href="#hx" x="451.7" y="212.3"/><use href="#hx" x="479.3" y="212.3"/><use href="#hx" x="399.3" y="215.8"/><use href="#hx" x="410.4" y="215.8"/><use href="#hx" x="421.4" y="215.8"/><use href="#hx" x="432.4" y="215.8"/><use href="#hx" x="437.9" y="215.8"/><use href="#hx" x="443.5" y="215.8"/><use href="#hx" x="449.0" y="215.8"/><use href="#hx" x="385.6" y="219.3"/><use href="#hx" x="413.1" y="219.3"/><use href="#hx" x="429.7" y="219.3"/><use href="#hx" x="446.2" y="219.3"/><use href="#hx" x="457.2" y="219.3"/><use href="#hx" x="382.8" y="222.8"/><use href="#hx" x="410.4" y="222.8"/><use href="#hx" x="432.4" y="222.8"/><use href="#hx" x="437.9" y="222.8"/><use href="#hx" x="449.0" y="222.8"/><use href="#hx" x="454.5" y="222.8"/><use href="#hx" x="407.6" y="226.2"/><use href="#hx" x="418.6" y="226.2"/><use href="#hx" x="424.2" y="226.2"/><use href="#hx" x="429.7" y="226.2"/><use href="#hx" x="440.7" y="226.2"/><use href="#hx" x="410.4" y="229.7"/><use href="#hx" x="432.4" y="229.7"/><use href="#hx" x="437.9" y="229.7"/><use href="#hx" x="407.6" y="233.2"/><use href="#hx" x="424.2" y="233.2"/><use href="#hx" x="415.9" y="236.7"/><use href="#hx" x="421.4" y="236.7"/><use href="#hx" x="437.9" y="236.7"/><use href="#hx" x="391.1" y="240.1"/><use href="#hx" x="407.6" y="240.1"/><use href="#hx" x="415.9" y="243.6"/><use href="#hx" x="421.4" y="243.6"/><use href="#hx" x="476.6" y="243.6"/><use href="#hx" x="418.6" y="247.1"/><use href="#hx" x="534.5" y="247.1"/><use href="#hx" x="391.1" y="254.0"/><use href="#hx" x="402.1" y="254.0"/><use href="#hx" x="407.6" y="254.0"/><use href="#hx" x="490.3" y="254.0"/><use href="#hx" x="382.8" y="257.5"/><use href="#hx" x="410.4" y="257.5"/><use href="#hx" x="415.9" y="257.5"/><use href="#hx" x="396.6" y="261.0"/><use href="#hx" x="402.1" y="261.0"/><use href="#hx" x="377.3" y="264.5"/><use href="#hx" x="399.3" y="264.5"/><use href="#hx" x="396.6" y="267.9"/><use href="#hx" x="407.6" y="267.9"/><use href="#hx" x="506.9" y="267.9"/><use href="#hx" x="404.9" y="271.4"/><use href="#hx" x="391.1" y="274.9"/><use href="#hx" x="396.6" y="274.9"/><use href="#hx" x="385.6" y="281.9"/><use href="#hx" x="391.1" y="281.9"/></g>
<g fill="#b8cee4" stroke="#b8cee4"><use href="#hx" x="537.2" y="167.2"/><use href="#hx" x="462.8" y="170.6"/><use href="#hx" x="432.4" y="174.1"/><use href="#hx" x="443.5" y="174.1"/><use href="#hx" x="449.0" y="174.1"/><use href="#hx" x="424.2" y="177.6"/><use href="#hx" x="451.7" y="177.6"/><use href="#hx" x="457.2" y="177.6"/><use href="#hx" x="462.8" y="177.6"/><use href="#hx" x="460.0" y="181.1"/><use href="#hx" x="404.9" y="222.8"/><use href="#hx" x="443.5" y="222.8"/><use href="#hx" x="402.1" y="233.2"/><use href="#hx" x="404.9" y="236.7"/></g>
<g fill="#d1e2ee" stroke="#d1e2ee"><use href="#hx" x="429.7" y="177.6"/><use href="#hx" x="426.9" y="181.1"/><use href="#hx" x="432.4" y="181.1"/></g></g>
</g>
<rect x="376.50" y="161.45" width="165.45" height="120.40" fill="none" stroke="#333" stroke-opacity="0.5" stroke-width="0.90"/>
<rect x="376.50" y="147.20" width="165.45" height="14.25" fill="#d9d9d9" stroke="#333" stroke-opacity="0.5" stroke-width="0.90"/>
<line x1="376.05" y1="161.45" x2="542.40" y2="161.45" stroke="#333" stroke-width="0.8"/>
<text x="459.23" y="157.02" font-size="7.5" stroke-width="0" fill="#222" text-anchor="middle">Undersegmentation rate</text>
<text x="386.10" y="275.35" font-size="9.2" fill="#000" stroke="#000" stroke-width="0.15">Spearman&#39;s rho = 0.46</text>
<line x1="408.01" y1="281.85" x2="408.01" y2="284.05" stroke="#333" stroke-width="0.85"/>
<text x="408.01" y="291.85" font-size="7.1" fill="#4d4d4d" stroke="#4d4d4d" stroke-width="0.15" text-anchor="middle">50</text>
<line x1="441.49" y1="281.85" x2="441.49" y2="284.05" stroke="#333" stroke-width="0.85"/>
<text x="441.49" y="291.85" font-size="7.1" fill="#4d4d4d" stroke="#4d4d4d" stroke-width="0.15" text-anchor="middle">100</text>
<line x1="474.98" y1="281.85" x2="474.98" y2="284.05" stroke="#333" stroke-width="0.85"/>
<text x="474.98" y="291.85" font-size="7.1" fill="#4d4d4d" stroke="#4d4d4d" stroke-width="0.15" text-anchor="middle">150</text>
<line x1="508.46" y1="281.85" x2="508.46" y2="284.05" stroke="#333" stroke-width="0.85"/>
<text x="508.46" y="291.85" font-size="7.1" fill="#4d4d4d" stroke="#4d4d4d" stroke-width="0.15" text-anchor="middle">200</text>
<line x1="541.95" y1="281.85" x2="541.95" y2="284.05" stroke="#333" stroke-width="0.85"/>
<text x="541.95" y="291.85" font-size="7.1" fill="#4d4d4d" stroke="#4d4d4d" stroke-width="0.15" text-anchor="middle">250</text>
<text x="289" y="302.7" font-size="8.95" fill="#000" stroke="#000" stroke-width="0.15" text-anchor="middle">Field size (ha)</text>
<text transform="translate(11.6,152.3) rotate(-90)" font-size="8.9" fill="#000" stroke="#000" stroke-width="0.15" text-anchor="middle">Accuracy</text>
<text x="203.5" y="326.2" font-size="9.1" fill="#000" stroke="#000" stroke-width="0.15">log(Density)</text>
<defs><linearGradient id="lg" x1="0" x2="1" y1="0" y2="0">
<stop offset="0.000" stop-color="#edf8fb"/>
<stop offset="0.020" stop-color="#e7f4f8"/>
<stop offset="0.040" stop-color="#e2eff6"/>
<stop offset="0.060" stop-color="#dcebf3"/>
<stop offset="0.080" stop-color="#d7e6f1"/>
<stop offset="0.100" stop-color="#d1e2ee"/>
<stop offset="0.120" stop-color="#ccddec"/>
<stop offset="0.140" stop-color="#c6d9e9"/>
<stop offset="0.160" stop-color="#c1d4e7"/>
<stop offset="0.180" stop-color="#bcd1e5"/>
<stop offset="0.200" stop-color="#b8cee4"/>
<stop offset="0.220" stop-color="#b5cce2"/>
<stop offset="0.240" stop-color="#b1c9e1"/>
<stop offset="0.260" stop-color="#adc6df"/>
<stop offset="0.280" stop-color="#a9c3de"/>
<stop offset="0.300" stop-color="#a5c1dc"/>
<stop offset="0.320" stop-color="#a1bedb"/>
<stop offset="0.340" stop-color="#9dbad9"/>
<stop offset="0.360" stop-color="#9bb6d7"/>
<stop offset="0.380" stop-color="#99b1d4"/>
<stop offset="0.400" stop-color="#97add2"/>
<stop offset="0.420" stop-color="#95a8d0"/>
<stop offset="0.440" stop-color="#93a4cd"/>
<stop offset="0.460" stop-color="#909fcb"/>
<stop offset="0.480" stop-color="#8e9bc8"/>
<stop offset="0.500" stop-color="#8c96c6"/>
<stop offset="0.520" stop-color="#8c91c3"/>
<stop offset="0.540" stop-color="#8d8cc1"/>
<stop offset="0.560" stop-color="#8d87be"/>
<stop offset="0.580" stop-color="#8d82bc"/>
<stop offset="0.600" stop-color="#8d7cb9"/>
<stop offset="0.620" stop-color="#8d77b7"/>
<stop offset="0.640" stop-color="#8c72b4"/>
<stop offset="0.660" stop-color="#8c6db2"/>
<stop offset="0.680" stop-color="#8c68af"/>
<stop offset="0.700" stop-color="#8c63ad"/>
<stop offset="0.720" stop-color="#8b5eab"/>
<stop offset="0.740" stop-color="#8b59a8"/>
<stop offset="0.760" stop-color="#8a54a6"/>
<stop offset="0.780" stop-color="#8a4fa3"/>
<stop offset="0.800" stop-color="#894aa1"/>
<stop offset="0.820" stop-color="#88459f"/>
<stop offset="0.840" stop-color="#873f9b"/>
<stop offset="0.860" stop-color="#843995"/>
<stop offset="0.880" stop-color="#81338f"/>
<stop offset="0.900" stop-color="#7e2d89"/>
<stop offset="0.920" stop-color="#7b2683"/>
<stop offset="0.940" stop-color="#781f7d"/>
<stop offset="0.960" stop-color="#751777"/>
<stop offset="0.980" stop-color="#710e71"/>
<stop offset="1.000" stop-color="#6e016b"/>
</linearGradient></defs>
<rect x="203.5" y="331.9" width="170" height="13.8" fill="url(#lg)"/>
<line x1="203.50" y1="331.9" x2="203.50" y2="334.7" stroke="#fff" stroke-opacity="0.6" stroke-width="0.4"/>
<line x1="203.50" y1="342.9" x2="203.50" y2="345.7" stroke="#fff" stroke-opacity="0.6" stroke-width="0.4"/>
<text x="203.50" y="356" font-size="7.1" fill="#4d4d4d" stroke="#4d4d4d" stroke-width="0.15" text-anchor="middle">0</text>
<line x1="237.50" y1="331.9" x2="237.50" y2="334.7" stroke="#fff" stroke-opacity="0.6" stroke-width="0.4"/>
<line x1="237.50" y1="342.9" x2="237.50" y2="345.7" stroke="#fff" stroke-opacity="0.6" stroke-width="0.4"/>
<text x="237.50" y="356" font-size="7.1" fill="#4d4d4d" stroke="#4d4d4d" stroke-width="0.15" text-anchor="middle">1</text>
<line x1="271.50" y1="331.9" x2="271.50" y2="334.7" stroke="#fff" stroke-opacity="0.6" stroke-width="0.4"/>
<line x1="271.50" y1="342.9" x2="271.50" y2="345.7" stroke="#fff" stroke-opacity="0.6" stroke-width="0.4"/>
<text x="271.50" y="356" font-size="7.1" fill="#4d4d4d" stroke="#4d4d4d" stroke-width="0.15" text-anchor="middle">2</text>
<line x1="305.50" y1="331.9" x2="305.50" y2="334.7" stroke="#fff" stroke-opacity="0.6" stroke-width="0.4"/>
<line x1="305.50" y1="342.9" x2="305.50" y2="345.7" stroke="#fff" stroke-opacity="0.6" stroke-width="0.4"/>
<text x="305.50" y="356" font-size="7.1" fill="#4d4d4d" stroke="#4d4d4d" stroke-width="0.15" text-anchor="middle">3</text>
<line x1="339.50" y1="331.9" x2="339.50" y2="334.7" stroke="#fff" stroke-opacity="0.6" stroke-width="0.4"/>
<line x1="339.50" y1="342.9" x2="339.50" y2="345.7" stroke="#fff" stroke-opacity="0.6" stroke-width="0.4"/>
<text x="339.50" y="356" font-size="7.1" fill="#4d4d4d" stroke="#4d4d4d" stroke-width="0.15" text-anchor="middle">4</text>
<line x1="373.50" y1="331.9" x2="373.50" y2="334.7" stroke="#fff" stroke-opacity="0.6" stroke-width="0.4"/>
<line x1="373.50" y1="342.9" x2="373.50" y2="345.7" stroke="#fff" stroke-opacity="0.6" stroke-width="0.4"/>
<text x="373.50" y="356" font-size="7.1" fill="#4d4d4d" stroke="#4d4d4d" stroke-width="0.15" text-anchor="middle">5</text>
</svg></body></html>
